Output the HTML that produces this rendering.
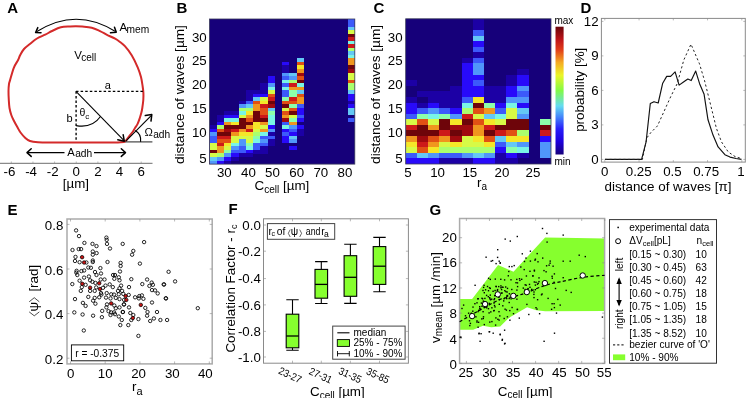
<!DOCTYPE html><html><head><meta charset="utf-8"><style>html,body{margin:0;padding:0;background:#fff;overflow:hidden}svg{display:block;will-change:transform}text{font-family:"Liberation Sans",sans-serif;fill:#000}</style></head><body>
<svg width="746" height="398" viewBox="0 0 746 398">
<text x="7.2" y="13.4" font-size="15" font-weight="bold">A</text>
<path d="M125.10,141.80 C123.92,141.90 121.35,142.27 118.00,142.40 C114.65,142.53 109.67,142.58 105.00,142.60 C100.33,142.62 95.83,142.52 90.00,142.50 C84.17,142.48 76.62,142.48 70.00,142.50 C63.38,142.52 55.63,142.63 50.30,142.60 C44.97,142.57 41.38,142.57 38.00,142.30 C34.62,142.03 32.15,141.77 30.00,141.00 C27.85,140.23 26.68,139.12 25.10,137.70 C23.52,136.28 21.75,134.18 20.50,132.50 C19.25,130.82 18.77,129.68 17.60,127.60 C16.43,125.52 14.55,122.10 13.50,120.00 C12.45,117.90 11.97,117.00 11.30,115.00 C10.63,113.00 9.92,110.50 9.50,108.00 C9.08,105.50 8.97,102.83 8.80,100.00 C8.63,97.17 8.47,93.67 8.50,91.00 C8.53,88.33 8.75,85.77 9.00,84.00 C9.25,82.23 9.20,83.10 10.00,80.40 C10.80,77.70 12.45,71.20 13.80,67.80 C15.15,64.40 17.05,62.08 18.10,60.00 C19.15,57.92 19.12,57.13 20.10,55.30 C21.08,53.47 22.32,50.93 24.00,49.00 C25.68,47.07 28.03,45.45 30.20,43.70 C32.37,41.95 34.50,40.00 37.00,38.50 C39.50,37.00 42.70,35.95 45.20,34.70 C47.70,33.45 49.40,32.23 52.00,31.00 C54.60,29.77 57.77,28.05 60.80,27.30 C63.83,26.55 67.67,26.67 70.20,26.50 C72.73,26.33 73.98,26.28 76.00,26.30 C78.02,26.32 79.68,26.37 82.30,26.60 C84.92,26.83 88.75,26.95 91.70,27.70 C94.65,28.45 97.45,29.92 100.00,31.10 C102.55,32.28 104.48,33.53 107.00,34.80 C109.52,36.07 112.93,37.50 115.10,38.70 C117.27,39.90 118.37,40.75 120.00,42.00 C121.63,43.25 122.95,44.00 124.90,46.20 C126.85,48.40 129.57,51.68 131.70,55.20 C133.83,58.72 136.15,63.67 137.70,67.30 C139.25,70.93 140.18,73.88 141.00,77.00 C141.82,80.12 142.20,83.33 142.60,86.00 C143.00,88.67 143.28,90.67 143.40,93.00 C143.52,95.33 143.48,97.50 143.30,100.00 C143.12,102.50 142.62,105.90 142.30,108.00 C141.98,110.10 141.82,110.93 141.40,112.60 C140.98,114.27 140.43,116.12 139.80,118.00 C139.17,119.88 138.40,122.23 137.60,123.90 C136.80,125.57 135.83,126.65 135.00,128.00 C134.17,129.35 133.60,130.58 132.60,132.00 C131.60,133.42 130.05,135.13 129.00,136.50 C127.95,137.87 126.95,139.32 126.30,140.20 C125.65,141.08 125.30,141.53 125.10,141.80" fill="none" stroke="#d42a2a" stroke-width="2" stroke-linejoin="round"/>
<g stroke="#000" fill="none" stroke-width="1.1">
<path d="M36.5,31.8 Q75.8,6.8 115.5,31.5"/>
<path d="M76,91.3 H144" stroke-dasharray="2.5,2.1" stroke-width="1.35"/>
<path d="M76.1,91.3 V142" stroke-dasharray="2.5,2.1" stroke-width="1.35"/>
<path d="M76,91.3 L123.6,140.2"/>
<path d="M76.1,125.6 Q92,128.5 100.5,116.5"/>
<path d="M125.1,141.9 H152.4" stroke="#333"/>
<path d="M125.8,141.2 L151.2,115.6"/>
<path d="M140.6,141.9 Q141.5,134 135.2,130.6"/>
<path d="M27.5,152.6 H64.5 M94,152.6 H124.8"/>
</g>
<g stroke="#000" fill="none" stroke-width="1.5" stroke-linecap="round" stroke-linejoin="round">
<path d="M37.8,27.6 L35.6,32.5 L41,32.8"/>
<path d="M110.5,32.8 L116.3,32.2 L114.5,27.2"/>
<path d="M117.8,139.8 L124.3,141.2 L123.2,134.8"/>
<path d="M145.3,115.6 L151.8,114.6 L151,121.1"/>
<path d="M31.2,148.8 L27,152.6 L31.2,156.4"/>
<path d="M121.3,148.8 L125.5,152.6 L121.3,156.4"/>
</g>
<path d="M0,163.4 H152.5" stroke="#8a8a8a" stroke-width="1.2"/>
<path d="M11.30,163 V161.5" stroke="#8a8a8a" stroke-width="0.6"/>
<text x="9.40" y="176.40" font-size="13.3" text-anchor="middle" >-6</text>
<path d="M32.95,163 V161.5" stroke="#8a8a8a" stroke-width="0.6"/>
<text x="31.05" y="176.40" font-size="13.3" text-anchor="middle" >-4</text>
<path d="M54.60,163 V161.5" stroke="#8a8a8a" stroke-width="0.6"/>
<text x="52.70" y="176.40" font-size="13.3" text-anchor="middle" >-2</text>
<path d="M76.25,163 V161.5" stroke="#8a8a8a" stroke-width="0.6"/>
<text x="76.25" y="176.40" font-size="13.3" text-anchor="middle" >0</text>
<path d="M97.90,163 V161.5" stroke="#8a8a8a" stroke-width="0.6"/>
<text x="97.90" y="176.40" font-size="13.3" text-anchor="middle" >2</text>
<path d="M119.55,163 V161.5" stroke="#8a8a8a" stroke-width="0.6"/>
<text x="119.55" y="176.40" font-size="13.3" text-anchor="middle" >4</text>
<path d="M141.20,163 V161.5" stroke="#8a8a8a" stroke-width="0.6"/>
<text x="141.20" y="176.40" font-size="13.3" text-anchor="middle" >6</text>
<text x="75.90" y="187.60" font-size="13.3" text-anchor="middle" >[µm]</text>
<text x="74.20" y="58.60" font-size="11.5" text-anchor="start" >V</text>
<text x="81.20" y="61.20" font-size="10" text-anchor="start" >cell</text>
<text x="119.40" y="30.50" font-size="11.5" text-anchor="start" >A</text>
<text x="126.60" y="33.00" font-size="10.2" text-anchor="start" >mem</text>
<text x="107.70" y="89.40" font-size="11" text-anchor="middle" >a</text>
<text x="66.60" y="122.00" font-size="11" text-anchor="start" >b</text>
<text x="79.60" y="116.20" font-size="10.5" text-anchor="start" >θ</text>
<text x="85.20" y="119.30" font-size="8" text-anchor="start" >c</text>
<text x="144.60" y="136.40" font-size="11.2" text-anchor="start" >Ω</text>
<text x="153.20" y="137.80" font-size="10.2" text-anchor="start" >adh</text>
<text x="67.20" y="155.50" font-size="11.2" text-anchor="start" >A</text>
<text x="75.20" y="157.20" font-size="10.2" text-anchor="start" >adh</text>
<text x="176.6" y="13.4" font-size="15" font-weight="bold">B</text>
<rect x="209.5" y="19.0" width="145.30" height="145.10" fill="#16007a"/>
<g shape-rendering="crispEdges">
<rect x="296.68" y="58.42" width="7.32" height="3.57" fill="#64c8f5"/>
<rect x="347.54" y="58.42" width="7.32" height="3.57" fill="#f0961e"/>
<rect x="282.15" y="61.94" width="7.32" height="3.57" fill="#280afa"/>
<rect x="296.68" y="61.94" width="7.32" height="3.57" fill="#e15014"/>
<rect x="347.54" y="61.94" width="7.32" height="3.57" fill="#f0961e"/>
<rect x="282.15" y="65.46" width="7.32" height="3.57" fill="#1c00a5"/>
<rect x="296.68" y="65.46" width="7.32" height="3.57" fill="#f5e628"/>
<rect x="347.54" y="65.46" width="7.32" height="3.57" fill="#6e050a"/>
<rect x="282.15" y="68.98" width="7.32" height="3.57" fill="#1c00a5"/>
<rect x="296.68" y="68.98" width="7.32" height="3.57" fill="#f0961e"/>
<rect x="347.54" y="68.98" width="7.32" height="3.57" fill="#a00a0f"/>
<rect x="282.15" y="72.50" width="7.32" height="3.57" fill="#5096fa"/>
<rect x="289.42" y="72.50" width="7.32" height="3.57" fill="#64c8f5"/>
<rect x="296.68" y="72.50" width="7.32" height="3.57" fill="#a00a0f"/>
<rect x="347.54" y="72.50" width="7.32" height="3.57" fill="#d7fa46"/>
<rect x="267.62" y="76.02" width="7.32" height="3.57" fill="#280afa"/>
<rect x="282.15" y="76.02" width="7.32" height="3.57" fill="#3c5afa"/>
<rect x="289.42" y="76.02" width="7.32" height="3.57" fill="#5096fa"/>
<rect x="296.68" y="76.02" width="7.32" height="3.57" fill="#e15014"/>
<rect x="347.54" y="76.02" width="7.32" height="3.57" fill="#d7fa46"/>
<rect x="267.62" y="79.54" width="7.32" height="3.57" fill="#280afa"/>
<rect x="282.15" y="79.54" width="7.32" height="3.57" fill="#78f5e6"/>
<rect x="289.42" y="79.54" width="7.32" height="3.57" fill="#aaff6e"/>
<rect x="296.68" y="79.54" width="7.32" height="3.57" fill="#6e050a"/>
<rect x="347.54" y="79.54" width="7.32" height="3.57" fill="#e15014"/>
<rect x="260.36" y="83.06" width="7.32" height="3.57" fill="#1c00a5"/>
<rect x="267.62" y="83.06" width="7.32" height="3.57" fill="#5096fa"/>
<rect x="282.15" y="83.06" width="7.32" height="3.57" fill="#3c5afa"/>
<rect x="289.42" y="83.06" width="7.32" height="3.57" fill="#cd1919"/>
<rect x="296.68" y="83.06" width="7.32" height="3.57" fill="#78f5e6"/>
<rect x="347.54" y="83.06" width="7.32" height="3.57" fill="#aaff6e"/>
<rect x="260.36" y="86.58" width="7.32" height="3.57" fill="#1c00a5"/>
<rect x="267.62" y="86.58" width="7.32" height="3.57" fill="#78f5e6"/>
<rect x="282.15" y="86.58" width="7.32" height="3.57" fill="#78f5e6"/>
<rect x="289.42" y="86.58" width="7.32" height="3.57" fill="#f0961e"/>
<rect x="296.68" y="86.58" width="7.32" height="3.57" fill="#f0961e"/>
<rect x="347.54" y="86.58" width="7.32" height="3.57" fill="#aaff6e"/>
<rect x="245.82" y="90.10" width="7.32" height="3.57" fill="#1c00a5"/>
<rect x="253.09" y="90.10" width="7.32" height="3.57" fill="#1c00a5"/>
<rect x="260.36" y="90.10" width="7.32" height="3.57" fill="#1c00a5"/>
<rect x="267.62" y="90.10" width="7.32" height="3.57" fill="#d7fa46"/>
<rect x="282.15" y="90.10" width="7.32" height="3.57" fill="#3c5afa"/>
<rect x="289.42" y="90.10" width="7.32" height="3.57" fill="#8cffaa"/>
<rect x="296.68" y="90.10" width="7.32" height="3.57" fill="#64c8f5"/>
<rect x="347.54" y="90.10" width="7.32" height="3.57" fill="#64c8f5"/>
<rect x="245.82" y="93.62" width="7.32" height="3.57" fill="#1c00a5"/>
<rect x="253.09" y="93.62" width="7.32" height="3.57" fill="#280afa"/>
<rect x="260.36" y="93.62" width="7.32" height="3.57" fill="#280afa"/>
<rect x="267.62" y="93.62" width="7.32" height="3.57" fill="#e15014"/>
<rect x="282.15" y="93.62" width="7.32" height="3.57" fill="#3c5afa"/>
<rect x="289.42" y="93.62" width="7.32" height="3.57" fill="#8cffaa"/>
<rect x="296.68" y="93.62" width="7.32" height="3.57" fill="#e15014"/>
<rect x="347.54" y="93.62" width="7.32" height="3.57" fill="#280afa"/>
<rect x="245.82" y="97.14" width="7.32" height="3.57" fill="#1c00a5"/>
<rect x="253.09" y="97.14" width="7.32" height="3.57" fill="#64c8f5"/>
<rect x="260.36" y="97.14" width="7.32" height="3.57" fill="#d7fa46"/>
<rect x="267.62" y="97.14" width="7.32" height="3.57" fill="#cd1919"/>
<rect x="282.15" y="97.14" width="7.32" height="3.57" fill="#8cffaa"/>
<rect x="289.42" y="97.14" width="7.32" height="3.57" fill="#cd1919"/>
<rect x="296.68" y="97.14" width="7.32" height="3.57" fill="#f0961e"/>
<rect x="347.54" y="97.14" width="7.32" height="3.57" fill="#280afa"/>
<rect x="238.56" y="100.66" width="7.32" height="3.57" fill="#1c00a5"/>
<rect x="245.82" y="100.66" width="7.32" height="3.57" fill="#3c5afa"/>
<rect x="253.09" y="100.66" width="7.32" height="3.57" fill="#e15014"/>
<rect x="260.36" y="100.66" width="7.32" height="3.57" fill="#f5e628"/>
<rect x="267.62" y="100.66" width="7.32" height="3.57" fill="#6e050a"/>
<rect x="282.15" y="100.66" width="7.32" height="3.57" fill="#e15014"/>
<rect x="289.42" y="100.66" width="7.32" height="3.57" fill="#e15014"/>
<rect x="296.68" y="100.66" width="7.32" height="3.57" fill="#f0961e"/>
<rect x="347.54" y="100.66" width="7.32" height="3.57" fill="#1c00a5"/>
<rect x="238.56" y="104.18" width="7.32" height="3.57" fill="#5096fa"/>
<rect x="245.82" y="104.18" width="7.32" height="3.57" fill="#64c8f5"/>
<rect x="253.09" y="104.18" width="7.32" height="3.57" fill="#f0961e"/>
<rect x="260.36" y="104.18" width="7.32" height="3.57" fill="#cd1919"/>
<rect x="267.62" y="104.18" width="7.32" height="3.57" fill="#a00a0f"/>
<rect x="282.15" y="104.18" width="7.32" height="3.57" fill="#6e050a"/>
<rect x="289.42" y="104.18" width="7.32" height="3.57" fill="#8cffaa"/>
<rect x="296.68" y="104.18" width="7.32" height="3.57" fill="#3c5afa"/>
<rect x="347.54" y="104.18" width="7.32" height="3.57" fill="#280afa"/>
<rect x="238.56" y="107.70" width="7.32" height="3.57" fill="#aaff6e"/>
<rect x="245.82" y="107.70" width="7.32" height="3.57" fill="#aaff6e"/>
<rect x="253.09" y="107.70" width="7.32" height="3.57" fill="#f0961e"/>
<rect x="260.36" y="107.70" width="7.32" height="3.57" fill="#e15014"/>
<rect x="267.62" y="107.70" width="7.32" height="3.57" fill="#64c8f5"/>
<rect x="282.15" y="107.70" width="7.32" height="3.57" fill="#d7fa46"/>
<rect x="289.42" y="107.70" width="7.32" height="3.57" fill="#e15014"/>
<rect x="296.68" y="107.70" width="7.32" height="3.57" fill="#280afa"/>
<rect x="347.54" y="107.70" width="7.32" height="3.57" fill="#64c8f5"/>
<rect x="224.03" y="111.22" width="7.32" height="3.57" fill="#1c00a5"/>
<rect x="231.30" y="111.22" width="7.32" height="3.57" fill="#1c00a5"/>
<rect x="238.56" y="111.22" width="7.32" height="3.57" fill="#78f5e6"/>
<rect x="245.82" y="111.22" width="7.32" height="3.57" fill="#f5e628"/>
<rect x="253.09" y="111.22" width="7.32" height="3.57" fill="#6e050a"/>
<rect x="260.36" y="111.22" width="7.32" height="3.57" fill="#e15014"/>
<rect x="267.62" y="111.22" width="7.32" height="3.57" fill="#8cffaa"/>
<rect x="282.15" y="111.22" width="7.32" height="3.57" fill="#e15014"/>
<rect x="289.42" y="111.22" width="7.32" height="3.57" fill="#6e050a"/>
<rect x="296.68" y="111.22" width="7.32" height="3.57" fill="#280afa"/>
<rect x="347.54" y="111.22" width="7.32" height="3.57" fill="#64c8f5"/>
<rect x="216.76" y="114.74" width="7.32" height="3.57" fill="#1c00a5"/>
<rect x="224.03" y="114.74" width="7.32" height="3.57" fill="#280afa"/>
<rect x="231.30" y="114.74" width="7.32" height="3.57" fill="#280afa"/>
<rect x="238.56" y="114.74" width="7.32" height="3.57" fill="#d7fa46"/>
<rect x="245.82" y="114.74" width="7.32" height="3.57" fill="#f0961e"/>
<rect x="253.09" y="114.74" width="7.32" height="3.57" fill="#6e050a"/>
<rect x="260.36" y="114.74" width="7.32" height="3.57" fill="#cd1919"/>
<rect x="267.62" y="114.74" width="7.32" height="3.57" fill="#78f5e6"/>
<rect x="282.15" y="114.74" width="7.32" height="3.57" fill="#f0961e"/>
<rect x="289.42" y="114.74" width="7.32" height="3.57" fill="#d7fa46"/>
<rect x="296.68" y="114.74" width="7.32" height="3.57" fill="#3c5afa"/>
<rect x="216.76" y="118.26" width="7.32" height="3.57" fill="#1c00a5"/>
<rect x="224.03" y="118.26" width="7.32" height="3.57" fill="#78f5e6"/>
<rect x="231.30" y="118.26" width="7.32" height="3.57" fill="#78f5e6"/>
<rect x="238.56" y="118.26" width="7.32" height="3.57" fill="#6e050a"/>
<rect x="245.82" y="118.26" width="7.32" height="3.57" fill="#e15014"/>
<rect x="253.09" y="118.26" width="7.32" height="3.57" fill="#6e050a"/>
<rect x="260.36" y="118.26" width="7.32" height="3.57" fill="#6e050a"/>
<rect x="267.62" y="118.26" width="7.32" height="3.57" fill="#78f5e6"/>
<rect x="282.15" y="118.26" width="7.32" height="3.57" fill="#a00a0f"/>
<rect x="289.42" y="118.26" width="7.32" height="3.57" fill="#8cffaa"/>
<rect x="296.68" y="118.26" width="7.32" height="3.57" fill="#280afa"/>
<rect x="347.54" y="118.26" width="7.32" height="3.57" fill="#3c5afa"/>
<rect x="216.76" y="121.78" width="7.32" height="3.57" fill="#280afa"/>
<rect x="224.03" y="121.78" width="7.32" height="3.57" fill="#f0961e"/>
<rect x="231.30" y="121.78" width="7.32" height="3.57" fill="#f5e628"/>
<rect x="238.56" y="121.78" width="7.32" height="3.57" fill="#6e050a"/>
<rect x="245.82" y="121.78" width="7.32" height="3.57" fill="#6e050a"/>
<rect x="253.09" y="121.78" width="7.32" height="3.57" fill="#f5e628"/>
<rect x="260.36" y="121.78" width="7.32" height="3.57" fill="#f0961e"/>
<rect x="267.62" y="121.78" width="7.32" height="3.57" fill="#78f5e6"/>
<rect x="282.15" y="121.78" width="7.32" height="3.57" fill="#3c5afa"/>
<rect x="289.42" y="121.78" width="7.32" height="3.57" fill="#f0961e"/>
<rect x="209.50" y="125.30" width="7.32" height="3.57" fill="#1c00a5"/>
<rect x="216.76" y="125.30" width="7.32" height="3.57" fill="#aaff6e"/>
<rect x="224.03" y="125.30" width="7.32" height="3.57" fill="#6e050a"/>
<rect x="231.30" y="125.30" width="7.32" height="3.57" fill="#6e050a"/>
<rect x="238.56" y="125.30" width="7.32" height="3.57" fill="#6e050a"/>
<rect x="245.82" y="125.30" width="7.32" height="3.57" fill="#f0961e"/>
<rect x="253.09" y="125.30" width="7.32" height="3.57" fill="#f5e628"/>
<rect x="260.36" y="125.30" width="7.32" height="3.57" fill="#d7fa46"/>
<rect x="267.62" y="125.30" width="7.32" height="3.57" fill="#280afa"/>
<rect x="282.15" y="125.30" width="7.32" height="3.57" fill="#78f5e6"/>
<rect x="289.42" y="125.30" width="7.32" height="3.57" fill="#5096fa"/>
<rect x="296.68" y="125.30" width="7.32" height="3.57" fill="#280afa"/>
<rect x="209.50" y="128.82" width="7.32" height="3.57" fill="#280afa"/>
<rect x="216.76" y="128.82" width="7.32" height="3.57" fill="#e15014"/>
<rect x="224.03" y="128.82" width="7.32" height="3.57" fill="#a00a0f"/>
<rect x="231.30" y="128.82" width="7.32" height="3.57" fill="#cd1919"/>
<rect x="238.56" y="128.82" width="7.32" height="3.57" fill="#f0961e"/>
<rect x="245.82" y="128.82" width="7.32" height="3.57" fill="#cd1919"/>
<rect x="253.09" y="128.82" width="7.32" height="3.57" fill="#d7fa46"/>
<rect x="260.36" y="128.82" width="7.32" height="3.57" fill="#f0961e"/>
<rect x="267.62" y="128.82" width="7.32" height="3.57" fill="#5096fa"/>
<rect x="282.15" y="128.82" width="7.32" height="3.57" fill="#280afa"/>
<rect x="289.42" y="128.82" width="7.32" height="3.57" fill="#3c5afa"/>
<rect x="296.68" y="128.82" width="7.32" height="3.57" fill="#1c00a5"/>
<rect x="209.50" y="132.34" width="7.32" height="3.57" fill="#5096fa"/>
<rect x="216.76" y="132.34" width="7.32" height="3.57" fill="#6e050a"/>
<rect x="224.03" y="132.34" width="7.32" height="3.57" fill="#6e050a"/>
<rect x="231.30" y="132.34" width="7.32" height="3.57" fill="#f0961e"/>
<rect x="238.56" y="132.34" width="7.32" height="3.57" fill="#f5e628"/>
<rect x="245.82" y="132.34" width="7.32" height="3.57" fill="#f5e628"/>
<rect x="253.09" y="132.34" width="7.32" height="3.57" fill="#aaff6e"/>
<rect x="260.36" y="132.34" width="7.32" height="3.57" fill="#78f5e6"/>
<rect x="267.62" y="132.34" width="7.32" height="3.57" fill="#1c00a5"/>
<rect x="282.15" y="132.34" width="7.32" height="3.57" fill="#3c5afa"/>
<rect x="289.42" y="132.34" width="7.32" height="3.57" fill="#280afa"/>
<rect x="296.68" y="132.34" width="7.32" height="3.57" fill="#1c00a5"/>
<rect x="209.50" y="135.86" width="7.32" height="3.57" fill="#3c5afa"/>
<rect x="216.76" y="135.86" width="7.32" height="3.57" fill="#cd1919"/>
<rect x="224.03" y="135.86" width="7.32" height="3.57" fill="#cd1919"/>
<rect x="231.30" y="135.86" width="7.32" height="3.57" fill="#d7fa46"/>
<rect x="238.56" y="135.86" width="7.32" height="3.57" fill="#d7fa46"/>
<rect x="245.82" y="135.86" width="7.32" height="3.57" fill="#d7fa46"/>
<rect x="253.09" y="135.86" width="7.32" height="3.57" fill="#8cffaa"/>
<rect x="260.36" y="135.86" width="7.32" height="3.57" fill="#3c5afa"/>
<rect x="267.62" y="135.86" width="7.32" height="3.57" fill="#3c5afa"/>
<rect x="282.15" y="135.86" width="7.32" height="3.57" fill="#280afa"/>
<rect x="289.42" y="135.86" width="7.32" height="3.57" fill="#64c8f5"/>
<rect x="209.50" y="139.38" width="7.32" height="3.57" fill="#3c5afa"/>
<rect x="216.76" y="139.38" width="7.32" height="3.57" fill="#e15014"/>
<rect x="224.03" y="139.38" width="7.32" height="3.57" fill="#e15014"/>
<rect x="231.30" y="139.38" width="7.32" height="3.57" fill="#d7fa46"/>
<rect x="238.56" y="139.38" width="7.32" height="3.57" fill="#5096fa"/>
<rect x="245.82" y="139.38" width="7.32" height="3.57" fill="#d7fa46"/>
<rect x="253.09" y="139.38" width="7.32" height="3.57" fill="#78f5e6"/>
<rect x="260.36" y="139.38" width="7.32" height="3.57" fill="#5096fa"/>
<rect x="267.62" y="139.38" width="7.32" height="3.57" fill="#1c00a5"/>
<rect x="282.15" y="139.38" width="7.32" height="3.57" fill="#280afa"/>
<rect x="289.42" y="139.38" width="7.32" height="3.57" fill="#5096fa"/>
<rect x="209.50" y="142.90" width="7.32" height="3.57" fill="#d7fa46"/>
<rect x="216.76" y="142.90" width="7.32" height="3.57" fill="#cd1919"/>
<rect x="224.03" y="142.90" width="7.32" height="3.57" fill="#f5e628"/>
<rect x="231.30" y="142.90" width="7.32" height="3.57" fill="#78f5e6"/>
<rect x="238.56" y="142.90" width="7.32" height="3.57" fill="#5096fa"/>
<rect x="245.82" y="142.90" width="7.32" height="3.57" fill="#8cffaa"/>
<rect x="253.09" y="142.90" width="7.32" height="3.57" fill="#3c5afa"/>
<rect x="260.36" y="142.90" width="7.32" height="3.57" fill="#3c5afa"/>
<rect x="267.62" y="142.90" width="7.32" height="3.57" fill="#1c00a5"/>
<rect x="209.50" y="146.42" width="7.32" height="3.57" fill="#d7fa46"/>
<rect x="216.76" y="146.42" width="7.32" height="3.57" fill="#f0961e"/>
<rect x="224.03" y="146.42" width="7.32" height="3.57" fill="#d7fa46"/>
<rect x="231.30" y="146.42" width="7.32" height="3.57" fill="#5096fa"/>
<rect x="238.56" y="146.42" width="7.32" height="3.57" fill="#3c5afa"/>
<rect x="245.82" y="146.42" width="7.32" height="3.57" fill="#78f5e6"/>
<rect x="253.09" y="146.42" width="7.32" height="3.57" fill="#3c5afa"/>
<rect x="260.36" y="146.42" width="7.32" height="3.57" fill="#1c00a5"/>
<rect x="289.42" y="146.42" width="7.32" height="3.57" fill="#280afa"/>
<rect x="209.50" y="149.94" width="7.32" height="3.57" fill="#6e050a"/>
<rect x="216.76" y="149.94" width="7.32" height="3.57" fill="#f0961e"/>
<rect x="224.03" y="149.94" width="7.32" height="3.57" fill="#8cffaa"/>
<rect x="231.30" y="149.94" width="7.32" height="3.57" fill="#3c5afa"/>
<rect x="238.56" y="149.94" width="7.32" height="3.57" fill="#3c5afa"/>
<rect x="245.82" y="149.94" width="7.32" height="3.57" fill="#280afa"/>
<rect x="253.09" y="149.94" width="7.32" height="3.57" fill="#1c00a5"/>
<rect x="260.36" y="149.94" width="7.32" height="3.57" fill="#1c00a5"/>
<rect x="209.50" y="153.46" width="7.32" height="3.57" fill="#d7fa46"/>
<rect x="216.76" y="153.46" width="7.32" height="3.57" fill="#aaff6e"/>
<rect x="224.03" y="153.46" width="7.32" height="3.57" fill="#5096fa"/>
<rect x="231.30" y="153.46" width="7.32" height="3.57" fill="#280afa"/>
<rect x="238.56" y="153.46" width="7.32" height="3.57" fill="#1c00a5"/>
<rect x="245.82" y="153.46" width="7.32" height="3.57" fill="#1c00a5"/>
<rect x="209.50" y="156.98" width="7.32" height="3.57" fill="#64c8f5"/>
<rect x="216.76" y="156.98" width="7.32" height="3.57" fill="#5096fa"/>
<rect x="224.03" y="156.98" width="7.32" height="3.57" fill="#280afa"/>
<rect x="231.30" y="156.98" width="7.32" height="3.57" fill="#1c00a5"/>
<rect x="209.50" y="160.50" width="7.32" height="3.57" fill="#5096fa"/>
<rect x="216.76" y="160.50" width="7.32" height="3.57" fill="#280afa"/>
<rect x="224.03" y="160.50" width="7.32" height="3.57" fill="#1c00a5"/>
<rect x="347.54" y="19.00" width="7.32" height="4.27" fill="#3c5afa"/>
<rect x="347.54" y="23.22" width="7.32" height="3.57" fill="#3c5afa"/>
<rect x="347.54" y="26.74" width="7.32" height="3.57" fill="#64c8f5"/>
<rect x="347.54" y="30.26" width="7.32" height="3.57" fill="#d7fa46"/>
<rect x="347.54" y="33.78" width="7.32" height="3.57" fill="#6e050a"/>
<rect x="347.54" y="37.30" width="7.32" height="3.57" fill="#cd1919"/>
<rect x="347.54" y="40.82" width="7.32" height="3.57" fill="#78f5e6"/>
<rect x="347.54" y="44.34" width="7.32" height="3.57" fill="#cd1919"/>
<rect x="347.54" y="47.86" width="7.32" height="3.57" fill="#aaff6e"/>
<rect x="347.54" y="51.38" width="7.32" height="3.57" fill="#64c8f5"/>
<rect x="347.54" y="54.90" width="7.32" height="3.57" fill="#78f5e6"/>
</g>
<rect x="209.5" y="19.0" width="145.30" height="145.10" fill="none" stroke="#3a3a5a" stroke-width="0.8"/>
<text x="206.70" y="41.66" font-size="13.3" text-anchor="end" >30</text>
<text x="206.70" y="65.36" font-size="13.3" text-anchor="end" >25</text>
<text x="206.70" y="88.96" font-size="13.3" text-anchor="end" >20</text>
<text x="206.70" y="113.46" font-size="13.3" text-anchor="end" >15</text>
<text x="206.70" y="137.16" font-size="13.3" text-anchor="end" >10</text>
<text x="206.70" y="163.26" font-size="13.3" text-anchor="end" >5</text>
<text x="224.30" y="176.80" font-size="13.3" text-anchor="middle" >30</text>
<text x="248.50" y="176.80" font-size="13.3" text-anchor="middle" >40</text>
<text x="272.50" y="176.80" font-size="13.3" text-anchor="middle" >50</text>
<text x="296.70" y="176.80" font-size="13.3" text-anchor="middle" >60</text>
<text x="320.80" y="176.80" font-size="13.3" text-anchor="middle" >70</text>
<text x="345.00" y="176.80" font-size="13.3" text-anchor="middle" >80</text>
<text transform="translate(184.00,94.60) rotate(-90)" font-size="13.65" text-anchor="middle">distance of waves [µm]</text>
<text x="254.6" y="190.2" font-size="13.4">C<tspan font-size="10" dy="2.6">cell</tspan><tspan dy="-2.6"> [µm]</tspan></text>
<text x="373.6" y="13.4" font-size="15" font-weight="bold">C</text>
<rect x="405.7" y="18.8" width="145.30" height="145.20" fill="#16007a"/>
<g shape-rendering="crispEdges">
<rect x="405.70" y="80.23" width="11.23" height="5.63" fill="#1c00a5"/>
<rect x="405.70" y="96.98" width="11.23" height="5.63" fill="#1c00a5"/>
<rect x="405.70" y="102.57" width="11.23" height="5.63" fill="#280afa"/>
<rect x="405.70" y="108.15" width="11.23" height="5.63" fill="#280afa"/>
<rect x="405.70" y="113.74" width="11.23" height="5.63" fill="#3c5afa"/>
<rect x="405.70" y="119.32" width="11.23" height="5.63" fill="#d7fa46"/>
<rect x="405.70" y="124.91" width="11.23" height="5.63" fill="#cd1919"/>
<rect x="405.70" y="130.49" width="11.23" height="5.63" fill="#6e050a"/>
<rect x="405.70" y="136.08" width="11.23" height="5.63" fill="#f0961e"/>
<rect x="405.70" y="141.66" width="11.23" height="5.63" fill="#f5e628"/>
<rect x="405.70" y="147.25" width="11.23" height="5.63" fill="#d7fa46"/>
<rect x="405.70" y="152.83" width="11.23" height="5.63" fill="#3c5afa"/>
<rect x="405.70" y="158.42" width="11.23" height="5.63" fill="#280afa"/>
<rect x="416.88" y="91.40" width="11.23" height="5.63" fill="#1c00a5"/>
<rect x="416.88" y="102.57" width="11.23" height="5.63" fill="#1c00a5"/>
<rect x="416.88" y="108.15" width="11.23" height="5.63" fill="#3c5afa"/>
<rect x="416.88" y="113.74" width="11.23" height="5.63" fill="#8cffaa"/>
<rect x="416.88" y="119.32" width="11.23" height="5.63" fill="#e15014"/>
<rect x="416.88" y="124.91" width="11.23" height="5.63" fill="#6e050a"/>
<rect x="416.88" y="130.49" width="11.23" height="5.63" fill="#6e050a"/>
<rect x="416.88" y="136.08" width="11.23" height="5.63" fill="#a00a0f"/>
<rect x="416.88" y="141.66" width="11.23" height="5.63" fill="#cd1919"/>
<rect x="416.88" y="147.25" width="11.23" height="5.63" fill="#e15014"/>
<rect x="416.88" y="152.83" width="11.23" height="5.63" fill="#64c8f5"/>
<rect x="416.88" y="158.42" width="11.23" height="5.63" fill="#280afa"/>
<rect x="428.05" y="91.40" width="11.23" height="5.63" fill="#1c00a5"/>
<rect x="428.05" y="96.98" width="11.23" height="5.63" fill="#1c00a5"/>
<rect x="428.05" y="102.57" width="11.23" height="5.63" fill="#280afa"/>
<rect x="428.05" y="108.15" width="11.23" height="5.63" fill="#5096fa"/>
<rect x="428.05" y="113.74" width="11.23" height="5.63" fill="#78f5e6"/>
<rect x="428.05" y="119.32" width="11.23" height="5.63" fill="#d7fa46"/>
<rect x="428.05" y="124.91" width="11.23" height="5.63" fill="#f0961e"/>
<rect x="428.05" y="130.49" width="11.23" height="5.63" fill="#6e050a"/>
<rect x="428.05" y="136.08" width="11.23" height="5.63" fill="#e15014"/>
<rect x="428.05" y="141.66" width="11.23" height="5.63" fill="#f0961e"/>
<rect x="428.05" y="147.25" width="11.23" height="5.63" fill="#f5e628"/>
<rect x="428.05" y="152.83" width="11.23" height="5.63" fill="#5096fa"/>
<rect x="428.05" y="158.42" width="11.23" height="5.63" fill="#280afa"/>
<rect x="439.23" y="91.40" width="11.23" height="5.63" fill="#1c00a5"/>
<rect x="439.23" y="96.98" width="11.23" height="5.63" fill="#1c00a5"/>
<rect x="439.23" y="102.57" width="11.23" height="5.63" fill="#1c00a5"/>
<rect x="439.23" y="108.15" width="11.23" height="5.63" fill="#3c5afa"/>
<rect x="439.23" y="113.74" width="11.23" height="5.63" fill="#8cffaa"/>
<rect x="439.23" y="119.32" width="11.23" height="5.63" fill="#6e050a"/>
<rect x="439.23" y="124.91" width="11.23" height="5.63" fill="#6e050a"/>
<rect x="439.23" y="130.49" width="11.23" height="5.63" fill="#cd1919"/>
<rect x="439.23" y="136.08" width="11.23" height="5.63" fill="#f0961e"/>
<rect x="439.23" y="141.66" width="11.23" height="5.63" fill="#d7fa46"/>
<rect x="439.23" y="147.25" width="11.23" height="5.63" fill="#aaff6e"/>
<rect x="439.23" y="152.83" width="11.23" height="5.63" fill="#3c5afa"/>
<rect x="439.23" y="158.42" width="11.23" height="5.63" fill="#1c00a5"/>
<rect x="450.41" y="85.82" width="11.23" height="5.63" fill="#1c00a5"/>
<rect x="450.41" y="91.40" width="11.23" height="5.63" fill="#1c00a5"/>
<rect x="450.41" y="96.98" width="11.23" height="5.63" fill="#1c00a5"/>
<rect x="450.41" y="102.57" width="11.23" height="5.63" fill="#1c00a5"/>
<rect x="450.41" y="108.15" width="11.23" height="5.63" fill="#280afa"/>
<rect x="450.41" y="113.74" width="11.23" height="5.63" fill="#5096fa"/>
<rect x="450.41" y="119.32" width="11.23" height="5.63" fill="#f5e628"/>
<rect x="450.41" y="124.91" width="11.23" height="5.63" fill="#a00a0f"/>
<rect x="450.41" y="130.49" width="11.23" height="5.63" fill="#6e050a"/>
<rect x="450.41" y="136.08" width="11.23" height="5.63" fill="#a00a0f"/>
<rect x="450.41" y="141.66" width="11.23" height="5.63" fill="#f5e628"/>
<rect x="450.41" y="147.25" width="11.23" height="5.63" fill="#aaff6e"/>
<rect x="450.41" y="152.83" width="11.23" height="5.63" fill="#3c5afa"/>
<rect x="450.41" y="158.42" width="11.23" height="5.63" fill="#1c00a5"/>
<rect x="461.58" y="57.89" width="11.23" height="5.63" fill="#1c00a5"/>
<rect x="461.58" y="63.48" width="11.23" height="5.63" fill="#280afa"/>
<rect x="461.58" y="69.06" width="11.23" height="5.63" fill="#280afa"/>
<rect x="461.58" y="74.65" width="11.23" height="5.63" fill="#280afa"/>
<rect x="461.58" y="80.23" width="11.23" height="5.63" fill="#280afa"/>
<rect x="461.58" y="85.82" width="11.23" height="5.63" fill="#280afa"/>
<rect x="461.58" y="91.40" width="11.23" height="5.63" fill="#280afa"/>
<rect x="461.58" y="96.98" width="11.23" height="5.63" fill="#3c5afa"/>
<rect x="461.58" y="102.57" width="11.23" height="5.63" fill="#78f5e6"/>
<rect x="461.58" y="108.15" width="11.23" height="5.63" fill="#aaff6e"/>
<rect x="461.58" y="113.74" width="11.23" height="5.63" fill="#cd1919"/>
<rect x="461.58" y="119.32" width="11.23" height="5.63" fill="#6e050a"/>
<rect x="461.58" y="124.91" width="11.23" height="5.63" fill="#a00a0f"/>
<rect x="461.58" y="130.49" width="11.23" height="5.63" fill="#a00a0f"/>
<rect x="461.58" y="136.08" width="11.23" height="5.63" fill="#d7fa46"/>
<rect x="461.58" y="141.66" width="11.23" height="5.63" fill="#d7fa46"/>
<rect x="461.58" y="147.25" width="11.23" height="5.63" fill="#aaff6e"/>
<rect x="461.58" y="152.83" width="11.23" height="5.63" fill="#5096fa"/>
<rect x="461.58" y="158.42" width="11.23" height="5.63" fill="#1c00a5"/>
<rect x="472.76" y="18.80" width="11.23" height="5.63" fill="#1c00a5"/>
<rect x="472.76" y="24.38" width="11.23" height="5.63" fill="#1c00a5"/>
<rect x="472.76" y="29.97" width="11.23" height="5.63" fill="#3c5afa"/>
<rect x="472.76" y="35.55" width="11.23" height="5.63" fill="#64c8f5"/>
<rect x="472.76" y="41.14" width="11.23" height="5.63" fill="#280afa"/>
<rect x="472.76" y="46.72" width="11.23" height="5.63" fill="#3c5afa"/>
<rect x="472.76" y="52.31" width="11.23" height="5.63" fill="#1c00a5"/>
<rect x="472.76" y="57.89" width="11.23" height="5.63" fill="#3c5afa"/>
<rect x="472.76" y="63.48" width="11.23" height="5.63" fill="#5096fa"/>
<rect x="472.76" y="69.06" width="11.23" height="5.63" fill="#5096fa"/>
<rect x="472.76" y="74.65" width="11.23" height="5.63" fill="#280afa"/>
<rect x="472.76" y="80.23" width="11.23" height="5.63" fill="#3c5afa"/>
<rect x="472.76" y="85.82" width="11.23" height="5.63" fill="#280afa"/>
<rect x="472.76" y="91.40" width="11.23" height="5.63" fill="#280afa"/>
<rect x="472.76" y="96.98" width="11.23" height="5.63" fill="#f5e628"/>
<rect x="472.76" y="102.57" width="11.23" height="5.63" fill="#6e050a"/>
<rect x="472.76" y="108.15" width="11.23" height="5.63" fill="#e15014"/>
<rect x="472.76" y="113.74" width="11.23" height="5.63" fill="#d7fa46"/>
<rect x="472.76" y="119.32" width="11.23" height="5.63" fill="#e15014"/>
<rect x="472.76" y="124.91" width="11.23" height="5.63" fill="#f0961e"/>
<rect x="472.76" y="130.49" width="11.23" height="5.63" fill="#f0961e"/>
<rect x="472.76" y="136.08" width="11.23" height="5.63" fill="#f5e628"/>
<rect x="472.76" y="141.66" width="11.23" height="5.63" fill="#d7fa46"/>
<rect x="472.76" y="147.25" width="11.23" height="5.63" fill="#aaff6e"/>
<rect x="472.76" y="152.83" width="11.23" height="5.63" fill="#64c8f5"/>
<rect x="472.76" y="158.42" width="11.23" height="5.63" fill="#280afa"/>
<rect x="483.94" y="85.82" width="11.23" height="5.63" fill="#1c00a5"/>
<rect x="483.94" y="91.40" width="11.23" height="5.63" fill="#1c00a5"/>
<rect x="483.94" y="96.98" width="11.23" height="5.63" fill="#1c00a5"/>
<rect x="483.94" y="102.57" width="11.23" height="5.63" fill="#8cffaa"/>
<rect x="483.94" y="108.15" width="11.23" height="5.63" fill="#f0961e"/>
<rect x="483.94" y="113.74" width="11.23" height="5.63" fill="#64c8f5"/>
<rect x="483.94" y="119.32" width="11.23" height="5.63" fill="#f5e628"/>
<rect x="483.94" y="124.91" width="11.23" height="5.63" fill="#cd1919"/>
<rect x="483.94" y="130.49" width="11.23" height="5.63" fill="#6e050a"/>
<rect x="483.94" y="136.08" width="11.23" height="5.63" fill="#e15014"/>
<rect x="483.94" y="141.66" width="11.23" height="5.63" fill="#f5e628"/>
<rect x="483.94" y="147.25" width="11.23" height="5.63" fill="#aaff6e"/>
<rect x="483.94" y="152.83" width="11.23" height="5.63" fill="#5096fa"/>
<rect x="483.94" y="158.42" width="11.23" height="5.63" fill="#280afa"/>
<rect x="495.12" y="85.82" width="11.23" height="5.63" fill="#1c00a5"/>
<rect x="495.12" y="91.40" width="11.23" height="5.63" fill="#1c00a5"/>
<rect x="495.12" y="96.98" width="11.23" height="5.63" fill="#1c00a5"/>
<rect x="495.12" y="102.57" width="11.23" height="5.63" fill="#280afa"/>
<rect x="495.12" y="108.15" width="11.23" height="5.63" fill="#3c5afa"/>
<rect x="495.12" y="113.74" width="11.23" height="5.63" fill="#78f5e6"/>
<rect x="495.12" y="119.32" width="11.23" height="5.63" fill="#d7fa46"/>
<rect x="495.12" y="124.91" width="11.23" height="5.63" fill="#6e050a"/>
<rect x="495.12" y="130.49" width="11.23" height="5.63" fill="#cd1919"/>
<rect x="495.12" y="136.08" width="11.23" height="5.63" fill="#64c8f5"/>
<rect x="495.12" y="141.66" width="11.23" height="5.63" fill="#3c5afa"/>
<rect x="495.12" y="147.25" width="11.23" height="5.63" fill="#280afa"/>
<rect x="495.12" y="152.83" width="11.23" height="5.63" fill="#1c00a5"/>
<rect x="495.12" y="158.42" width="11.23" height="5.63" fill="#1c00a5"/>
<rect x="506.29" y="74.65" width="11.23" height="5.63" fill="#1c00a5"/>
<rect x="506.29" y="80.23" width="11.23" height="5.63" fill="#1c00a5"/>
<rect x="506.29" y="85.82" width="11.23" height="5.63" fill="#280afa"/>
<rect x="506.29" y="91.40" width="11.23" height="5.63" fill="#280afa"/>
<rect x="506.29" y="96.98" width="11.23" height="5.63" fill="#5096fa"/>
<rect x="506.29" y="102.57" width="11.23" height="5.63" fill="#78f5e6"/>
<rect x="506.29" y="108.15" width="11.23" height="5.63" fill="#d7fa46"/>
<rect x="506.29" y="113.74" width="11.23" height="5.63" fill="#d7fa46"/>
<rect x="506.29" y="119.32" width="11.23" height="5.63" fill="#6e050a"/>
<rect x="506.29" y="124.91" width="11.23" height="5.63" fill="#6e050a"/>
<rect x="506.29" y="130.49" width="11.23" height="5.63" fill="#e15014"/>
<rect x="506.29" y="136.08" width="11.23" height="5.63" fill="#f5e628"/>
<rect x="506.29" y="141.66" width="11.23" height="5.63" fill="#64c8f5"/>
<rect x="506.29" y="147.25" width="11.23" height="5.63" fill="#8cffaa"/>
<rect x="506.29" y="152.83" width="11.23" height="5.63" fill="#280afa"/>
<rect x="506.29" y="158.42" width="11.23" height="5.63" fill="#1c00a5"/>
<rect x="517.47" y="69.06" width="11.23" height="5.63" fill="#1c00a5"/>
<rect x="517.47" y="74.65" width="11.23" height="5.63" fill="#280afa"/>
<rect x="517.47" y="80.23" width="11.23" height="5.63" fill="#280afa"/>
<rect x="517.47" y="85.82" width="11.23" height="5.63" fill="#5096fa"/>
<rect x="517.47" y="91.40" width="11.23" height="5.63" fill="#3c5afa"/>
<rect x="517.47" y="96.98" width="11.23" height="5.63" fill="#5096fa"/>
<rect x="517.47" y="102.57" width="11.23" height="5.63" fill="#280afa"/>
<rect x="517.47" y="108.15" width="11.23" height="5.63" fill="#64c8f5"/>
<rect x="517.47" y="113.74" width="11.23" height="5.63" fill="#5096fa"/>
<rect x="517.47" y="119.32" width="11.23" height="5.63" fill="#6e050a"/>
<rect x="517.47" y="124.91" width="11.23" height="5.63" fill="#6e050a"/>
<rect x="517.47" y="130.49" width="11.23" height="5.63" fill="#aaff6e"/>
<rect x="517.47" y="136.08" width="11.23" height="5.63" fill="#f5e628"/>
<rect x="517.47" y="141.66" width="11.23" height="5.63" fill="#5096fa"/>
<rect x="517.47" y="147.25" width="11.23" height="5.63" fill="#78f5e6"/>
<rect x="517.47" y="152.83" width="11.23" height="5.63" fill="#1c00a5"/>
<rect x="539.82" y="119.32" width="11.23" height="5.63" fill="#8cffaa"/>
<rect x="539.82" y="124.91" width="11.23" height="5.63" fill="#6e050a"/>
<rect x="539.82" y="130.49" width="11.23" height="5.63" fill="#cd1919"/>
<rect x="539.82" y="136.08" width="11.23" height="5.63" fill="#280afa"/>
<rect x="539.82" y="141.66" width="11.23" height="5.63" fill="#5096fa"/>
<rect x="539.82" y="147.25" width="11.23" height="5.63" fill="#5096fa"/>
<rect x="539.82" y="152.83" width="11.23" height="5.63" fill="#5096fa"/>
</g>
<rect x="405.7" y="18.8" width="145.30" height="145.20" fill="none" stroke="#3a3a5a" stroke-width="0.8"/>
<text x="402.60" y="41.50" font-size="13.3" text-anchor="end" >30</text>
<text x="402.60" y="64.80" font-size="13.3" text-anchor="end" >25</text>
<text x="402.60" y="88.50" font-size="13.3" text-anchor="end" >20</text>
<text x="402.60" y="112.90" font-size="13.3" text-anchor="end" >15</text>
<text x="402.60" y="136.70" font-size="13.3" text-anchor="end" >10</text>
<text x="402.60" y="162.80" font-size="13.3" text-anchor="end" >5</text>
<text x="407.90" y="176.80" font-size="13.3" text-anchor="middle" >5</text>
<text x="437.60" y="176.80" font-size="13.3" text-anchor="middle" >10</text>
<text x="469.80" y="176.80" font-size="13.3" text-anchor="middle" >15</text>
<text x="501.90" y="176.80" font-size="13.3" text-anchor="middle" >20</text>
<text x="533.00" y="176.80" font-size="13.3" text-anchor="middle" >25</text>
<text transform="translate(380.20,94.40) rotate(-90)" font-size="13.65" text-anchor="middle">distance of waves [µm]</text>
<text x="477.0" y="186.9" font-size="13.4">r<tspan font-size="10" dy="3.3">a</tspan></text>
<defs><linearGradient id="jet" x1="0" y1="1" x2="0" y2="0">
<stop offset="0" stop-color="#16007a"/>
<stop offset="0.1" stop-color="#1e00dc"/>
<stop offset="0.2" stop-color="#281efa"/>
<stop offset="0.3" stop-color="#468cfa"/>
<stop offset="0.38" stop-color="#64dcf0"/>
<stop offset="0.5" stop-color="#82fa46"/>
<stop offset="0.62" stop-color="#ebf528"/>
<stop offset="0.72" stop-color="#f5aa23"/>
<stop offset="0.82" stop-color="#e13c19"/>
<stop offset="0.9" stop-color="#be1419"/>
<stop offset="1" stop-color="#69050a"/>
</linearGradient></defs>
<rect x="555.5" y="26.7" width="8.1" height="127.8" fill="url(#jet)"/>
<text x="554.40" y="23.60" font-size="10" text-anchor="start" >max</text>
<text x="554.40" y="164.60" font-size="10" text-anchor="start" >min</text>
<text x="580.6" y="13.4" font-size="15" font-weight="bold">D</text>
<rect x="601.4" y="18.4" width="143.90" height="143.70" fill="none" stroke="#8a8a8a" stroke-width="1"/>
<path d="M601.4,159.40 h2 M745.3,159.40 h-2" stroke="#8a8a8a" stroke-width="0.6"/>
<text x="598.60" y="163.56" font-size="13.3" text-anchor="end" >0</text>
<path d="M601.4,124.90 h2 M745.3,124.90 h-2" stroke="#8a8a8a" stroke-width="0.6"/>
<text x="598.60" y="129.06" font-size="13.3" text-anchor="end" >3</text>
<path d="M601.4,90.40 h2 M745.3,90.40 h-2" stroke="#8a8a8a" stroke-width="0.6"/>
<text x="598.60" y="94.56" font-size="13.3" text-anchor="end" >6</text>
<path d="M601.4,55.90 h2 M745.3,55.90 h-2" stroke="#8a8a8a" stroke-width="0.6"/>
<text x="598.60" y="60.06" font-size="13.3" text-anchor="end" >9</text>
<path d="M601.4,21.40 h2 M745.3,21.40 h-2" stroke="#8a8a8a" stroke-width="0.6"/>
<text x="598.60" y="25.56" font-size="13.3" text-anchor="end" >12</text>
<path d="M604.80,162.1 v-2 M604.80,18.4 v2" stroke="#8a8a8a" stroke-width="0.6"/>
<text x="604.80" y="175.60" font-size="13.3" text-anchor="middle" >0</text>
<path d="M639.05,162.1 v-2 M639.05,18.4 v2" stroke="#8a8a8a" stroke-width="0.6"/>
<text x="638.70" y="175.60" font-size="13.3" text-anchor="middle" >0.25</text>
<path d="M673.30,162.1 v-2 M673.30,18.4 v2" stroke="#8a8a8a" stroke-width="0.6"/>
<text x="672.40" y="175.60" font-size="13.3" text-anchor="middle" >0.5</text>
<path d="M707.55,162.1 v-2 M707.55,18.4 v2" stroke="#8a8a8a" stroke-width="0.6"/>
<text x="706.10" y="175.60" font-size="13.3" text-anchor="middle" >0.75</text>
<path d="M741.80,162.1 v-2 M741.80,18.4 v2" stroke="#8a8a8a" stroke-width="0.6"/>
<text x="741.00" y="175.60" font-size="13.3" text-anchor="middle" >1</text>
<polyline points="604.9,159.4 641.6,159.4 646.1,141.8 650.3,103.5 654,101.7 658.2,103 662.7,83.2 666.7,76.4 670.6,76.4 675.1,71.9 679.1,85.1 683.5,82 687.8,79 691.2,80.6 695.7,71.1 699.6,83.7 704.1,94.3 708,119.8 713,135.1 718.1,146.9 724.9,154.7 730,157.1 736,158.5 741.5,159.4" fill="none" stroke="#111" stroke-width="1.15" stroke-linejoin="round"/>
<polyline points="604.9,159.4 642.4,159.4 646.9,137.8 650.8,132.6 657.4,126 664,111.5 670.6,96.9 677.2,83.7 683.8,60 691,44.2 699.5,63.9 704.6,80.8 711.4,108 716.4,128.3 721.5,141.9 728.3,152 735,156.5 741.5,158.6" fill="none" stroke="#222" stroke-width="1" stroke-dasharray="2.2,2.4"/>
<text transform="translate(584.10,89.80) rotate(-90)" font-size="13.4" text-anchor="middle">probability [%]</text>
<text x="604.60" y="190.60" font-size="13.4" text-anchor="start" >distance of waves [π]</text>
<text x="7.4" y="215.2" font-size="15" font-weight="bold">E</text>
<rect x="67.0" y="219.0" width="145.20" height="144.90" fill="none" stroke="#ababab" stroke-width="1.5"/>
<path d="M67.0,224.40 h2.5 M212.2,224.40 h-2.5" stroke="#8a8a8a" stroke-width="0.6"/>
<text x="63.30" y="230.26" font-size="13.3" text-anchor="end" >0.8</text>
<path d="M67.0,269.00 h2.5 M212.2,269.00 h-2.5" stroke="#8a8a8a" stroke-width="0.6"/>
<text x="63.30" y="274.86" font-size="13.3" text-anchor="end" >0.6</text>
<path d="M67.0,313.60 h2.5 M212.2,313.60 h-2.5" stroke="#8a8a8a" stroke-width="0.6"/>
<text x="63.30" y="319.46" font-size="13.3" text-anchor="end" >0.4</text>
<path d="M67.0,358.20 h2.5 M212.2,358.20 h-2.5" stroke="#8a8a8a" stroke-width="0.6"/>
<text x="63.30" y="364.06" font-size="13.3" text-anchor="end" >0.2</text>
<path d="M70.50,363.9 v-2.5 M70.50,219.0 v2.5" stroke="#8a8a8a" stroke-width="0.6"/>
<path d="M105.20,363.9 v-2.5 M105.20,219.0 v2.5" stroke="#8a8a8a" stroke-width="0.6"/>
<path d="M139.90,363.9 v-2.5 M139.90,219.0 v2.5" stroke="#8a8a8a" stroke-width="0.6"/>
<path d="M174.60,363.9 v-2.5 M174.60,219.0 v2.5" stroke="#8a8a8a" stroke-width="0.6"/>
<path d="M209.30,363.9 v-2.5 M209.30,219.0 v2.5" stroke="#8a8a8a" stroke-width="0.6"/>
<text x="70.70" y="377.80" font-size="13.3" text-anchor="middle" >0</text>
<text x="105.20" y="377.80" font-size="13.3" text-anchor="middle" >10</text>
<text x="138.60" y="377.80" font-size="13.3" text-anchor="middle" >20</text>
<text x="172.30" y="377.80" font-size="13.3" text-anchor="middle" >30</text>
<text x="205.30" y="377.80" font-size="13.3" text-anchor="middle" >40</text>
<g fill="none" stroke="#000" stroke-width="0.85">
<circle cx="76.1" cy="230.4" r="1.7"/>
<circle cx="79" cy="236.1" r="1.7"/>
<circle cx="84.4" cy="242.9" r="1.7"/>
<circle cx="92.5" cy="243.9" r="1.7"/>
<circle cx="96.5" cy="246.1" r="1.7"/>
<circle cx="106.4" cy="237.6" r="1.7"/>
<circle cx="106.7" cy="239.9" r="1.7"/>
<circle cx="107" cy="243.9" r="1.7"/>
<circle cx="110" cy="248.5" r="1.7"/>
<circle cx="122.7" cy="243.9" r="1.7"/>
<circle cx="72.5" cy="250" r="1.7"/>
<circle cx="78.7" cy="249.1" r="1.7"/>
<circle cx="81.1" cy="249.1" r="1.7"/>
<circle cx="92.8" cy="251.5" r="1.7"/>
<circle cx="92.8" cy="254.7" r="1.7"/>
<circle cx="96.6" cy="253.1" r="1.7"/>
<circle cx="75.5" cy="256.9" r="1.7"/>
<circle cx="75" cy="261" r="1.7"/>
<circle cx="79.6" cy="262.2" r="1.7"/>
<circle cx="86.4" cy="262.5" r="1.7"/>
<circle cx="92.8" cy="260.5" r="1.7"/>
<circle cx="92.8" cy="262" r="1.7"/>
<circle cx="107.5" cy="262" r="1.7"/>
<circle cx="120.6" cy="262.9" r="1.7"/>
<circle cx="120.6" cy="266" r="1.7"/>
<circle cx="88.3" cy="267.5" r="1.7"/>
<circle cx="90.9" cy="267.8" r="1.7"/>
<circle cx="100.4" cy="268.1" r="1.7"/>
<circle cx="76.6" cy="270.8" r="1.7"/>
<circle cx="76.3" cy="272.6" r="1.7"/>
<circle cx="77.3" cy="275" r="1.7"/>
<circle cx="81.4" cy="271.1" r="1.7"/>
<circle cx="84.1" cy="270.5" r="1.7"/>
<circle cx="95" cy="272" r="1.7"/>
<circle cx="101" cy="273.5" r="1.7"/>
<circle cx="96.5" cy="275" r="1.7"/>
<circle cx="120" cy="271.5" r="1.7"/>
<circle cx="113.1" cy="275" r="1.7"/>
<circle cx="115" cy="275" r="1.7"/>
<circle cx="84.1" cy="277.6" r="1.7"/>
<circle cx="88.9" cy="276.5" r="1.7"/>
<circle cx="144.1" cy="242.1" r="1.7"/>
<circle cx="133.3" cy="250.9" r="1.7"/>
<circle cx="132.1" cy="254.7" r="1.7"/>
<circle cx="139.9" cy="263.6" r="1.7"/>
<circle cx="168.6" cy="271.8" r="1.7"/>
<circle cx="72.3" cy="284.1" r="1.7"/>
<circle cx="79.6" cy="280.7" r="1.7"/>
<circle cx="85.6" cy="284.8" r="1.7"/>
<circle cx="90.1" cy="280.3" r="1.7"/>
<circle cx="92.4" cy="281.8" r="1.7"/>
<circle cx="95.4" cy="282.9" r="1.7"/>
<circle cx="100.7" cy="279.5" r="1.7"/>
<circle cx="104.5" cy="279.5" r="1.7"/>
<circle cx="114.3" cy="278.8" r="1.7"/>
<circle cx="118.8" cy="277.3" r="1.7"/>
<circle cx="119.5" cy="280.3" r="1.7"/>
<circle cx="81.8" cy="287.1" r="1.7"/>
<circle cx="80.8" cy="290.9" r="1.7"/>
<circle cx="90.1" cy="290.9" r="1.7"/>
<circle cx="94.7" cy="290.9" r="1.7"/>
<circle cx="96.2" cy="287.4" r="1.7"/>
<circle cx="103" cy="287.8" r="1.7"/>
<circle cx="105.5" cy="285.6" r="1.7"/>
<circle cx="109.7" cy="284.4" r="1.7"/>
<circle cx="112.8" cy="287.1" r="1.7"/>
<circle cx="121.1" cy="285.6" r="1.7"/>
<circle cx="119.5" cy="288.3" r="1.7"/>
<circle cx="118" cy="290.9" r="1.7"/>
<circle cx="122.1" cy="290.9" r="1.7"/>
<circle cx="101" cy="293.1" r="1.7"/>
<circle cx="101.4" cy="294.6" r="1.7"/>
<circle cx="106.7" cy="293.1" r="1.7"/>
<circle cx="111.2" cy="294.3" r="1.7"/>
<circle cx="114" cy="294.6" r="1.7"/>
<circle cx="118.8" cy="294.3" r="1.7"/>
<circle cx="123.3" cy="293.9" r="1.7"/>
<circle cx="88.3" cy="296.9" r="1.7"/>
<circle cx="75" cy="299.1" r="1.7"/>
<circle cx="94.7" cy="297.9" r="1.7"/>
<circle cx="99.2" cy="297.3" r="1.7"/>
<circle cx="106" cy="297.6" r="1.7"/>
<circle cx="110.5" cy="298.4" r="1.7"/>
<circle cx="115.8" cy="297.9" r="1.7"/>
<circle cx="119.5" cy="299.1" r="1.7"/>
<circle cx="124.1" cy="299.9" r="1.7"/>
<circle cx="93.1" cy="300.7" r="1.7"/>
<circle cx="95.4" cy="303.7" r="1.7"/>
<circle cx="82.9" cy="302.9" r="1.7"/>
<circle cx="85.6" cy="305.9" r="1.7"/>
<circle cx="107" cy="304.4" r="1.7"/>
<circle cx="114.3" cy="305.5" r="1.7"/>
<circle cx="106.4" cy="307.4" r="1.7"/>
<circle cx="115.8" cy="308.2" r="1.7"/>
<circle cx="119.5" cy="307.4" r="1.7"/>
<circle cx="124.1" cy="304.4" r="1.7"/>
<circle cx="74.3" cy="312.4" r="1.7"/>
<circle cx="82.6" cy="314.5" r="1.7"/>
<circle cx="93.1" cy="315.7" r="1.7"/>
<circle cx="102.2" cy="310.9" r="1.7"/>
<circle cx="108.5" cy="311.2" r="1.7"/>
<circle cx="111.2" cy="312.4" r="1.7"/>
<circle cx="114" cy="312.4" r="1.7"/>
<circle cx="110.5" cy="315" r="1.7"/>
<circle cx="115" cy="314.2" r="1.7"/>
<circle cx="123" cy="312" r="1.7"/>
<circle cx="101.9" cy="317.2" r="1.7"/>
<circle cx="118.8" cy="316.5" r="1.7"/>
<circle cx="121.8" cy="320" r="1.7"/>
<circle cx="120.3" cy="325.1" r="1.7"/>
<circle cx="83.8" cy="330.5" r="1.7"/>
<circle cx="131.3" cy="279.2" r="1.7"/>
<circle cx="147.1" cy="279.5" r="1.7"/>
<circle cx="142.3" cy="284.1" r="1.7"/>
<circle cx="151.7" cy="282.6" r="1.7"/>
<circle cx="149.4" cy="285.9" r="1.7"/>
<circle cx="152.9" cy="284.8" r="1.7"/>
<circle cx="163.7" cy="284.4" r="1.7"/>
<circle cx="175.1" cy="281.4" r="1.7"/>
<circle cx="129" cy="287.1" r="1.7"/>
<circle cx="152" cy="290.1" r="1.7"/>
<circle cx="155" cy="290.4" r="1.7"/>
<circle cx="157.7" cy="293.4" r="1.7"/>
<circle cx="128.7" cy="294.9" r="1.7"/>
<circle cx="135.1" cy="297.3" r="1.7"/>
<circle cx="139.3" cy="296.1" r="1.7"/>
<circle cx="141.9" cy="295.4" r="1.7"/>
<circle cx="138.9" cy="298.4" r="1.7"/>
<circle cx="143.4" cy="298.8" r="1.7"/>
<circle cx="166" cy="298.4" r="1.7"/>
<circle cx="123.8" cy="304.4" r="1.7"/>
<circle cx="152" cy="302.5" r="1.7"/>
<circle cx="129" cy="307.4" r="1.7"/>
<circle cx="145.3" cy="307.9" r="1.7"/>
<circle cx="122.7" cy="312" r="1.7"/>
<circle cx="130.3" cy="313" r="1.7"/>
<circle cx="147.5" cy="312" r="1.7"/>
<circle cx="157" cy="312" r="1.7"/>
<circle cx="133.3" cy="315" r="1.7"/>
<circle cx="131.3" cy="320" r="1.7"/>
<circle cx="138.4" cy="319.1" r="1.7"/>
<circle cx="147.1" cy="315.7" r="1.7"/>
<circle cx="153.9" cy="318.5" r="1.7"/>
<circle cx="150.2" cy="321" r="1.7"/>
<circle cx="160.4" cy="320" r="1.7"/>
<circle cx="167.1" cy="320" r="1.7"/>
<circle cx="128.3" cy="325.1" r="1.7"/>
<circle cx="197.8" cy="308.2" r="1.7"/>
<circle cx="138.4" cy="335.9" r="1.7"/>
<circle cx="164.1" cy="284.5" r="1.7"/>
<circle cx="165.8" cy="298.3" r="1.7"/>
</g><g fill="#c81414" stroke="#000" stroke-width="0.75">
<circle cx="82.1" cy="257.2" r="1.75"/>
<circle cx="84.1" cy="262.5" r="1.75"/>
<circle cx="82.3" cy="283.8" r="1.75"/>
<circle cx="99.2" cy="283.3" r="1.75"/>
<circle cx="90.1" cy="287.7" r="1.75"/>
<circle cx="99.9" cy="289" r="1.75"/>
<circle cx="125.6" cy="296.1" r="1.75"/>
<circle cx="111.2" cy="303.4" r="1.75"/>
<circle cx="126.3" cy="299.9" r="1.75"/>
<circle cx="140.8" cy="304.9" r="1.75"/>
<circle cx="132.8" cy="318" r="1.75"/>
</g>
<rect x="71.4" y="344.9" width="52.3" height="15.9" fill="#fff" stroke="#000" stroke-width="0.9"/>
<text x="75.20" y="357.00" font-size="10.2" text-anchor="start" >r = -0.375</text>
<g transform="translate(38,316) rotate(-90)">
<path d="M4.1,-8.8 L0.2,-3.75 L4.1,1.3 M14.2,-8.8 L18.3,-3.75 L14.2,1.3" fill="none" stroke="#000" stroke-width="0.7"/>
<text x="4.4" y="0" font-size="13.4">ψ</text>
<text x="24.4" y="0" font-size="13.4">[rad]</text>
</g>
<text x="132.0" y="391.4" font-size="13.4">r<tspan font-size="11" dy="3.6">a</tspan></text>
<text x="228.4" y="214.4" font-size="15" font-weight="bold">F</text>
<rect x="263.5" y="218.8" width="144.90" height="144.40" fill="none" stroke="#8a8a8a" stroke-width="1"/>
<path d="M263.5,225.00 h2.5 M408.4,225.00 h-2.5" stroke="#8a8a8a" stroke-width="0.6"/>
<text x="260.80" y="229.66" font-size="13.3" text-anchor="end" >0.0</text>
<path d="M263.5,251.20 h2.5 M408.4,251.20 h-2.5" stroke="#8a8a8a" stroke-width="0.6"/>
<text x="260.80" y="255.86" font-size="13.3" text-anchor="end" >-0.2</text>
<path d="M263.5,278.60 h2.5 M408.4,278.60 h-2.5" stroke="#8a8a8a" stroke-width="0.6"/>
<text x="260.80" y="283.26" font-size="13.3" text-anchor="end" >-0.4</text>
<path d="M263.5,304.90 h2.5 M408.4,304.90 h-2.5" stroke="#8a8a8a" stroke-width="0.6"/>
<text x="260.80" y="309.56" font-size="13.3" text-anchor="end" >-0.6</text>
<path d="M263.5,331.40 h2.5 M408.4,331.40 h-2.5" stroke="#8a8a8a" stroke-width="0.6"/>
<text x="260.80" y="336.06" font-size="13.3" text-anchor="end" >-0.8</text>
<path d="M263.5,357.00 h2.5 M408.4,357.00 h-2.5" stroke="#8a8a8a" stroke-width="0.6"/>
<text x="260.80" y="361.66" font-size="13.3" text-anchor="end" >-1.0</text>
<path d="M292.5,363.2 v-2.5 M292.5,218.8 v2.5" stroke="#8a8a8a" stroke-width="0.6"/>
<path d="M321.3,363.2 v-2.5 M321.3,218.8 v2.5" stroke="#8a8a8a" stroke-width="0.6"/>
<path d="M350.4,363.2 v-2.5 M350.4,218.8 v2.5" stroke="#8a8a8a" stroke-width="0.6"/>
<path d="M379.5,363.2 v-2.5 M379.5,218.8 v2.5" stroke="#8a8a8a" stroke-width="0.6"/>
<g stroke="#000" stroke-width="1.1" fill="none">
<path d="M292.5,299.8 V314.2 M292.5,347.8 V350.3 M286.3,299.8 h12.4 M286.3,350.3 h12.4"/>
<rect x="286.2" y="314.2" width="12.6" height="33.60" fill="#86ff2e"/>
<path d="M286.2,336.0 h12.6" stroke-width="1.3"/>
</g>
<g stroke="#000" stroke-width="1.1" fill="none">
<path d="M321.3,261.6 V269.4 M321.3,298.2 V303.5 M315.1,261.6 h12.4 M315.1,303.5 h12.4"/>
<rect x="315.0" y="269.4" width="12.6" height="28.80" fill="#86ff2e"/>
<path d="M315.0,284.4 h12.6" stroke-width="1.3"/>
</g>
<g stroke="#000" stroke-width="1.1" fill="none">
<path d="M350.4,244.3 V255.7 M350.4,296.3 V303.4 M344.2,244.3 h12.4 M344.2,303.4 h12.4"/>
<rect x="344.09999999999997" y="255.7" width="12.6" height="40.60" fill="#86ff2e"/>
<path d="M344.09999999999997,277.3 h12.6" stroke-width="1.3"/>
</g>
<g stroke="#000" stroke-width="1.1" fill="none">
<path d="M379.5,237.4 V246.6 M379.5,284.4 V291.8 M373.3,237.4 h12.4 M373.3,291.8 h12.4"/>
<rect x="373.2" y="246.6" width="12.6" height="37.80" fill="#86ff2e"/>
<path d="M373.2,266.2 h12.6" stroke-width="1.3"/>
</g>
<rect x="267.4" y="223.6" width="67.3" height="15.7" fill="#fff" stroke="#444" stroke-width="1"/>
<text x="268.6" y="235.4" font-size="10.4">r</text><text x="271.5" y="236.2" font-size="7">c</text>
<text x="276.8" y="235.4" font-size="10.4" textLength="8.6" lengthAdjust="spacingAndGlyphs">of</text>
<path d="M290.2,229.6 L288.3,233.3 L290.2,237 M299.7,229.6 L301.6,233.3 L299.7,237" fill="none" stroke="#000" stroke-width="0.6"/>
<text x="290.8" y="235.4" font-size="10.4">ψ</text>
<text x="305.8" y="235.4" font-size="10.4" textLength="14.6" lengthAdjust="spacingAndGlyphs">and</text>
<text x="321.2" y="235.4" font-size="10.4">r</text><text x="324.0" y="236.6" font-size="8.6">a</text>
<rect x="332.7" y="326.1" width="72.4" height="33.1" fill="#fff" stroke="#444" stroke-width="1"/>
<path d="M337.3,332.8 h12.2" stroke="#000" stroke-width="1.1"/>
<rect x="337.3" y="339.6" width="12.2" height="6.8" fill="#86ff2e" stroke="#000" stroke-width="0.9"/>
<path d="M337.3,353.7 h12.2 M337.5,351 v5.4 M349.3,351 v5.4" stroke="#000" stroke-width="0.9"/>
<text x="353.50" y="336.20" font-size="10" text-anchor="start" >median</text>
<text x="353.50" y="346.20" font-size="10" text-anchor="start" >25% - 75%</text>
<text x="353.50" y="357.00" font-size="10" text-anchor="start" >10% - 90%</text>
<text transform="translate(290.2,375.0) rotate(25)" font-size="10.5" text-anchor="middle" y="3.7" textLength="24" lengthAdjust="spacingAndGlyphs">23-27</text>
<text transform="translate(320.7,375.4) rotate(25)" font-size="10.5" text-anchor="middle" y="3.7" textLength="24" lengthAdjust="spacingAndGlyphs">27-31</text>
<text transform="translate(350.2,375.1) rotate(25)" font-size="10.5" text-anchor="middle" y="3.7" textLength="24" lengthAdjust="spacingAndGlyphs">31-35</text>
<text transform="translate(377.9,375.4) rotate(25)" font-size="10.5" text-anchor="middle" y="3.7" textLength="24" lengthAdjust="spacingAndGlyphs">35-85</text>
<text x="310.0" y="396.3" font-size="13.4">C<tspan font-size="10" dy="2.6">cell</tspan><tspan dy="-2.6"> [µm]</tspan></text>
<text transform="translate(234.7,288.6) rotate(-90)" font-size="13.4" text-anchor="middle">Correlation Factor - r<tspan font-size="9" dy="2.4">c</tspan></text>
<text x="429.6" y="215.2" font-size="15" font-weight="bold">G</text>
<polygon points="459.6,299.0 472.1,299.0 498.1,264.9 513.5,271.7 545.1,237.5 562,237.7 604.6,238.4 604.6,311.1 545.2,311.3 536.2,310.2 527.1,307.2 510.3,317.1 507.5,319.3 500.2,326.6 491.2,327.2 483.1,325.8 473.1,329.8 459.6,329.8" fill="#86ff2e"/>
<rect x="459.6" y="218.5" width="145.00" height="144.90" fill="none" stroke="#ababab" stroke-width="1.5"/>
<path d="M459.6,237.70 h2.5 M604.6,237.70 h-2.5" stroke="#8a8a8a" stroke-width="0.6"/>
<text x="456.80" y="242.46" font-size="13.3" text-anchor="end" >20</text>
<path d="M459.6,262.84 h2.5 M604.6,262.84 h-2.5" stroke="#8a8a8a" stroke-width="0.6"/>
<text x="456.80" y="266.96" font-size="13.3" text-anchor="end" >16</text>
<path d="M459.6,287.98 h2.5 M604.6,287.98 h-2.5" stroke="#8a8a8a" stroke-width="0.6"/>
<text x="456.80" y="292.96" font-size="13.3" text-anchor="end" >12</text>
<path d="M459.6,313.12 h2.5 M604.6,313.12 h-2.5" stroke="#8a8a8a" stroke-width="0.6"/>
<text x="456.80" y="317.86" font-size="13.3" text-anchor="end" >8</text>
<path d="M459.6,338.26 h2.5 M604.6,338.26 h-2.5" stroke="#8a8a8a" stroke-width="0.6"/>
<text x="456.80" y="344.06" font-size="13.3" text-anchor="end" >4</text>
<path d="M459.6,363.40 h2.5 M604.6,363.40 h-2.5" stroke="#8a8a8a" stroke-width="0.6"/>
<text x="456.80" y="368.66" font-size="13.3" text-anchor="end" >0</text>
<path d="M466.40,363.4 v-2.5 M466.40,218.5 v2.5" stroke="#8a8a8a" stroke-width="0.6"/>
<text x="465.80" y="376.90" font-size="13.3" text-anchor="middle" >25</text>
<path d="M489.46,363.4 v-2.5 M489.46,218.5 v2.5" stroke="#8a8a8a" stroke-width="0.6"/>
<text x="489.60" y="376.90" font-size="13.3" text-anchor="middle" >30</text>
<path d="M512.53,363.4 v-2.5 M512.53,218.5 v2.5" stroke="#8a8a8a" stroke-width="0.6"/>
<text x="513.10" y="376.90" font-size="13.3" text-anchor="middle" >35</text>
<path d="M535.60,363.4 v-2.5 M535.60,218.5 v2.5" stroke="#8a8a8a" stroke-width="0.6"/>
<text x="536.20" y="376.90" font-size="13.3" text-anchor="middle" >40</text>
<path d="M558.66,363.4 v-2.5 M558.66,218.5 v2.5" stroke="#8a8a8a" stroke-width="0.6"/>
<text x="559.30" y="376.90" font-size="13.3" text-anchor="middle" >45</text>
<path d="M581.73,363.4 v-2.5 M581.73,218.5 v2.5" stroke="#8a8a8a" stroke-width="0.6"/>
<text x="582.50" y="376.90" font-size="13.3" text-anchor="middle" >50</text>
<path d="M604.79,363.4 v-2.5 M604.79,218.5 v2.5" stroke="#8a8a8a" stroke-width="0.6"/>
<text x="604.20" y="376.90" font-size="13.3" text-anchor="middle" >55</text>
<g fill="#000">
<rect x="504.5" y="238.4" width="1.4" height="1.4"/>
<rect x="509.6" y="240.4" width="1.4" height="1.4"/>
<rect x="516.6" y="235.8" width="1.4" height="1.4"/>
<rect x="521.6" y="253.1" width="1.4" height="1.4"/>
<rect x="529.7" y="250.5" width="1.4" height="1.4"/>
<rect x="485.4" y="256.5" width="1.4" height="1.4"/>
<rect x="490.5" y="260.5" width="1.4" height="1.4"/>
<rect x="491.9" y="259.9" width="1.4" height="1.4"/>
<rect x="498.5" y="260.5" width="1.4" height="1.4"/>
<rect x="499.5" y="262.5" width="1.4" height="1.4"/>
<rect x="508.6" y="265.9" width="1.4" height="1.4"/>
<rect x="511.2" y="265.9" width="1.4" height="1.4"/>
<rect x="474.4" y="284.6" width="1.4" height="1.4"/>
<rect x="483.4" y="284.6" width="1.4" height="1.4"/>
<rect x="487.9" y="277.6" width="1.4" height="1.4"/>
<rect x="534.7" y="258.5" width="1.4" height="1.4"/>
<rect x="541.8" y="227.8" width="1.4" height="1.4"/>
<rect x="562.5" y="234.4" width="1.4" height="1.4"/>
<rect x="546.4" y="241.4" width="1.4" height="1.4"/>
<rect x="578.5" y="254.5" width="1.4" height="1.4"/>
<rect x="584.6" y="255.9" width="1.4" height="1.4"/>
<rect x="534.3" y="259.5" width="1.4" height="1.4"/>
<rect x="537.3" y="261.1" width="1.4" height="1.4"/>
<rect x="549.4" y="262.5" width="1.4" height="1.4"/>
<rect x="548.4" y="264.5" width="1.4" height="1.4"/>
<rect x="552.4" y="265.5" width="1.4" height="1.4"/>
<rect x="562.5" y="260.5" width="1.4" height="1.4"/>
<rect x="569.5" y="260.5" width="1.4" height="1.4"/>
<rect x="529.3" y="270.6" width="1.4" height="1.4"/>
<rect x="538.3" y="277.2" width="1.4" height="1.4"/>
<rect x="551.4" y="275.6" width="1.4" height="1.4"/>
<rect x="562.5" y="277.0" width="1.4" height="1.4"/>
<rect x="535.3" y="281.6" width="1.4" height="1.4"/>
<rect x="553.4" y="281.6" width="1.4" height="1.4"/>
<rect x="565.5" y="289.7" width="1.4" height="1.4"/>
<rect x="570.5" y="291.7" width="1.4" height="1.4"/>
<rect x="529.3" y="286.6" width="1.4" height="1.4"/>
<rect x="533.3" y="291.3" width="1.4" height="1.4"/>
<rect x="541.4" y="293.3" width="1.4" height="1.4"/>
<rect x="538.9" y="313.0" width="1.4" height="1.4"/>
<rect x="555.8" y="312.4" width="1.4" height="1.4"/>
<rect x="553.8" y="332.5" width="1.4" height="1.4"/>
<rect x="543.4" y="340.6" width="1.4" height="1.4"/>
<rect x="601.7" y="316.4" width="1.4" height="1.4"/>
<rect x="533.3" y="296.9" width="1.4" height="1.4"/>
<rect x="547.4" y="297.7" width="1.4" height="1.4"/>
<rect x="551.4" y="303.0" width="1.4" height="1.4"/>
<rect x="553.4" y="303.0" width="1.4" height="1.4"/>
<rect x="559.5" y="304.4" width="1.4" height="1.4"/>
<rect x="535.3" y="307.0" width="1.4" height="1.4"/>
<rect x="536.3" y="308.4" width="1.4" height="1.4"/>
<rect x="477.4" y="326.5" width="1.4" height="1.4"/>
<rect x="478.4" y="332.5" width="1.4" height="1.4"/>
<rect x="479.4" y="340.6" width="1.4" height="1.4"/>
<rect x="460.3" y="336.5" width="1.4" height="1.4"/>
<rect x="488.5" y="331.1" width="1.4" height="1.4"/>
<rect x="492.5" y="332.5" width="1.4" height="1.4"/>
<rect x="499.5" y="333.5" width="1.4" height="1.4"/>
<rect x="501.5" y="339.6" width="1.4" height="1.4"/>
<rect x="503.9" y="343.2" width="1.4" height="1.4"/>
<rect x="503.9" y="329.5" width="1.4" height="1.4"/>
<rect x="509.2" y="319.5" width="1.4" height="1.4"/>
<rect x="518.6" y="317.4" width="1.4" height="1.4"/>
<rect x="528.1" y="313.8" width="1.4" height="1.4"/>
<rect x="461.3" y="307.8" width="1.4" height="1.4"/>
<rect x="462.9" y="304.4" width="1.4" height="1.4"/>
<rect x="478.3" y="333.1" width="1.4" height="1.4"/>
<rect x="488.9" y="331.0" width="1.4" height="1.4"/>
<rect x="499.5" y="334.1" width="1.4" height="1.4"/>
<rect x="501.7" y="338.7" width="1.4" height="1.4"/>
<rect x="504.3" y="342.6" width="1.4" height="1.4"/>
<rect x="459.5" y="336.5" width="1.4" height="1.4"/>
<rect x="493.0" y="310.1" width="1.4" height="1.4"/>
<rect x="476.3" y="320.2" width="1.4" height="1.4"/>
<rect x="505.2" y="290.9" width="1.4" height="1.4"/>
<rect x="503.4" y="298.0" width="1.4" height="1.4"/>
<rect x="472.1" y="310.5" width="1.4" height="1.4"/>
<rect x="478.0" y="309.7" width="1.4" height="1.4"/>
<rect x="498.5" y="299.0" width="1.4" height="1.4"/>
<rect x="487.6" y="296.0" width="1.4" height="1.4"/>
<rect x="511.4" y="306.8" width="1.4" height="1.4"/>
<rect x="496.9" y="288.9" width="1.4" height="1.4"/>
<rect x="550.9" y="308.6" width="1.4" height="1.4"/>
<rect x="491.2" y="307.1" width="1.4" height="1.4"/>
<rect x="482.4" y="311.0" width="1.4" height="1.4"/>
<rect x="527.1" y="288.5" width="1.4" height="1.4"/>
<rect x="484.9" y="289.1" width="1.4" height="1.4"/>
<rect x="495.6" y="285.9" width="1.4" height="1.4"/>
<rect x="506.0" y="297.9" width="1.4" height="1.4"/>
<rect x="486.5" y="303.7" width="1.4" height="1.4"/>
<rect x="515.3" y="282.0" width="1.4" height="1.4"/>
<rect x="508.5" y="297.8" width="1.4" height="1.4"/>
<rect x="500.2" y="287.1" width="1.4" height="1.4"/>
<rect x="516.7" y="308.7" width="1.4" height="1.4"/>
<rect x="488.8" y="287.1" width="1.4" height="1.4"/>
<rect x="533.7" y="270.3" width="1.4" height="1.4"/>
<rect x="519.2" y="279.7" width="1.4" height="1.4"/>
<rect x="480.4" y="333.0" width="1.4" height="1.4"/>
<rect x="498.2" y="295.7" width="1.4" height="1.4"/>
<rect x="502.3" y="286.6" width="1.4" height="1.4"/>
<rect x="472.3" y="306.4" width="1.4" height="1.4"/>
<rect x="507.6" y="275.1" width="1.4" height="1.4"/>
<rect x="533.7" y="269.5" width="1.4" height="1.4"/>
<rect x="509.1" y="309.9" width="1.4" height="1.4"/>
<rect x="508.1" y="270.8" width="1.4" height="1.4"/>
<rect x="543.9" y="283.4" width="1.4" height="1.4"/>
<rect x="501.4" y="292.3" width="1.4" height="1.4"/>
<rect x="516.9" y="285.9" width="1.4" height="1.4"/>
<rect x="512.8" y="313.0" width="1.4" height="1.4"/>
<rect x="491.0" y="298.5" width="1.4" height="1.4"/>
<rect x="496.3" y="294.3" width="1.4" height="1.4"/>
<rect x="500.7" y="292.4" width="1.4" height="1.4"/>
<rect x="484.1" y="306.4" width="1.4" height="1.4"/>
<rect x="522.6" y="287.4" width="1.4" height="1.4"/>
<rect x="481.3" y="305.6" width="1.4" height="1.4"/>
<rect x="533.2" y="293.7" width="1.4" height="1.4"/>
<rect x="477.1" y="298.1" width="1.4" height="1.4"/>
<rect x="534.7" y="284.4" width="1.4" height="1.4"/>
<rect x="527.4" y="287.9" width="1.4" height="1.4"/>
<rect x="498.0" y="285.9" width="1.4" height="1.4"/>
<rect x="494.9" y="324.4" width="1.4" height="1.4"/>
<rect x="482.9" y="286.7" width="1.4" height="1.4"/>
<rect x="484.6" y="304.1" width="1.4" height="1.4"/>
<rect x="502.1" y="305.1" width="1.4" height="1.4"/>
<rect x="508.7" y="293.1" width="1.4" height="1.4"/>
<rect x="498.2" y="296.7" width="1.4" height="1.4"/>
<rect x="495.4" y="262.9" width="1.4" height="1.4"/>
<rect x="516.1" y="278.7" width="1.4" height="1.4"/>
<rect x="503.9" y="279.2" width="1.4" height="1.4"/>
<rect x="474.2" y="303.0" width="1.4" height="1.4"/>
<rect x="536.8" y="283.5" width="1.4" height="1.4"/>
<rect x="525.3" y="257.4" width="1.4" height="1.4"/>
<rect x="496.7" y="289.9" width="1.4" height="1.4"/>
<rect x="511.9" y="295.9" width="1.4" height="1.4"/>
<rect x="475.2" y="316.1" width="1.4" height="1.4"/>
<rect x="483.7" y="306.8" width="1.4" height="1.4"/>
<rect x="493.9" y="297.9" width="1.4" height="1.4"/>
<rect x="482.9" y="304.3" width="1.4" height="1.4"/>
<rect x="479.0" y="306.0" width="1.4" height="1.4"/>
<rect x="533.6" y="281.3" width="1.4" height="1.4"/>
<rect x="510.4" y="298.1" width="1.4" height="1.4"/>
<rect x="494.3" y="306.2" width="1.4" height="1.4"/>
<rect x="495.2" y="317.2" width="1.4" height="1.4"/>
<rect x="557.1" y="298.7" width="1.4" height="1.4"/>
<rect x="500.9" y="288.9" width="1.4" height="1.4"/>
<rect x="479.1" y="307.7" width="1.4" height="1.4"/>
<rect x="494.0" y="295.0" width="1.4" height="1.4"/>
<rect x="483.6" y="323.9" width="1.4" height="1.4"/>
<rect x="469.7" y="322.7" width="1.4" height="1.4"/>
<rect x="482.6" y="300.5" width="1.4" height="1.4"/>
<rect x="505.7" y="309.4" width="1.4" height="1.4"/>
<rect x="551.6" y="277.5" width="1.4" height="1.4"/>
<rect x="532.2" y="275.4" width="1.4" height="1.4"/>
<rect x="495.3" y="285.7" width="1.4" height="1.4"/>
<rect x="484.0" y="305.4" width="1.4" height="1.4"/>
<rect x="523.5" y="268.9" width="1.4" height="1.4"/>
<rect x="493.3" y="302.3" width="1.4" height="1.4"/>
<rect x="553.7" y="306.9" width="1.4" height="1.4"/>
<rect x="531.0" y="288.7" width="1.4" height="1.4"/>
<rect x="520.1" y="266.3" width="1.4" height="1.4"/>
<rect x="487.8" y="290.0" width="1.4" height="1.4"/>
<rect x="470.8" y="312.9" width="1.4" height="1.4"/>
<rect x="470.6" y="312.6" width="1.4" height="1.4"/>
<rect x="516.2" y="298.5" width="1.4" height="1.4"/>
<rect x="546.2" y="232.7" width="1.4" height="1.4"/>
<rect x="554.8" y="287.8" width="1.4" height="1.4"/>
<rect x="545.9" y="265.1" width="1.4" height="1.4"/>
<rect x="487.8" y="308.0" width="1.4" height="1.4"/>
<rect x="486.0" y="307.1" width="1.4" height="1.4"/>
<rect x="536.9" y="299.0" width="1.4" height="1.4"/>
<rect x="529.7" y="260.4" width="1.4" height="1.4"/>
<rect x="525.5" y="284.5" width="1.4" height="1.4"/>
<rect x="477.5" y="298.0" width="1.4" height="1.4"/>
<rect x="523.8" y="260.8" width="1.4" height="1.4"/>
<rect x="521.0" y="278.6" width="1.4" height="1.4"/>
<rect x="524.5" y="284.1" width="1.4" height="1.4"/>
<rect x="493.5" y="309.8" width="1.4" height="1.4"/>
<rect x="496.9" y="256.7" width="1.4" height="1.4"/>
<rect x="497.2" y="318.6" width="1.4" height="1.4"/>
<rect x="484.2" y="297.7" width="1.4" height="1.4"/>
<rect x="481.1" y="318.2" width="1.4" height="1.4"/>
<rect x="526.2" y="303.7" width="1.4" height="1.4"/>
<rect x="482.6" y="317.8" width="1.4" height="1.4"/>
<rect x="513.5" y="264.9" width="1.4" height="1.4"/>
<rect x="494.4" y="289.8" width="1.4" height="1.4"/>
<rect x="467.9" y="312.5" width="1.4" height="1.4"/>
<rect x="549.5" y="260.4" width="1.4" height="1.4"/>
<rect x="542.0" y="257.4" width="1.4" height="1.4"/>
<rect x="499.1" y="315.2" width="1.4" height="1.4"/>
<rect x="486.8" y="285.8" width="1.4" height="1.4"/>
<rect x="489.2" y="298.1" width="1.4" height="1.4"/>
<rect x="508.5" y="301.8" width="1.4" height="1.4"/>
<rect x="489.6" y="294.4" width="1.4" height="1.4"/>
<rect x="538.3" y="280.9" width="1.4" height="1.4"/>
<rect x="494.6" y="278.4" width="1.4" height="1.4"/>
<rect x="537.5" y="282.6" width="1.4" height="1.4"/>
<rect x="498.3" y="311.0" width="1.4" height="1.4"/>
<rect x="505.0" y="286.3" width="1.4" height="1.4"/>
<rect x="504.4" y="308.5" width="1.4" height="1.4"/>
<rect x="485.1" y="304.4" width="1.4" height="1.4"/>
<rect x="464.8" y="315.1" width="1.4" height="1.4"/>
<rect x="501.4" y="286.5" width="1.4" height="1.4"/>
<rect x="518.8" y="278.0" width="1.4" height="1.4"/>
<rect x="504.1" y="290.0" width="1.4" height="1.4"/>
<rect x="506.5" y="294.8" width="1.4" height="1.4"/>
<rect x="506.8" y="287.7" width="1.4" height="1.4"/>
<rect x="489.0" y="297.0" width="1.4" height="1.4"/>
<rect x="503.5" y="317.8" width="1.4" height="1.4"/>
<rect x="506.9" y="295.2" width="1.4" height="1.4"/>
<rect x="499.6" y="262.1" width="1.4" height="1.4"/>
<rect x="510.3" y="279.1" width="1.4" height="1.4"/>
<rect x="516.2" y="289.4" width="1.4" height="1.4"/>
<rect x="500.1" y="278.6" width="1.4" height="1.4"/>
<rect x="543.3" y="269.9" width="1.4" height="1.4"/>
<rect x="516.7" y="308.8" width="1.4" height="1.4"/>
<rect x="489.6" y="278.7" width="1.4" height="1.4"/>
<rect x="506.7" y="316.1" width="1.4" height="1.4"/>
<rect x="481.9" y="298.1" width="1.4" height="1.4"/>
<rect x="480.7" y="302.4" width="1.4" height="1.4"/>
<rect x="488.6" y="302.7" width="1.4" height="1.4"/>
<rect x="476.3" y="302.1" width="1.4" height="1.4"/>
<rect x="536.5" y="252.9" width="1.4" height="1.4"/>
<rect x="483.1" y="300.8" width="1.4" height="1.4"/>
<rect x="482.3" y="289.8" width="1.4" height="1.4"/>
<rect x="534.6" y="289.0" width="1.4" height="1.4"/>
<rect x="545.4" y="271.1" width="1.4" height="1.4"/>
<rect x="497.0" y="249.0" width="1.4" height="1.4"/>
<rect x="528.8" y="283.7" width="1.4" height="1.4"/>
<rect x="483.6" y="292.0" width="1.4" height="1.4"/>
<rect x="493.8" y="304.8" width="1.4" height="1.4"/>
<rect x="485.9" y="294.7" width="1.4" height="1.4"/>
<rect x="469.1" y="324.9" width="1.4" height="1.4"/>
<rect x="506.4" y="291.3" width="1.4" height="1.4"/>
<rect x="493.4" y="298.9" width="1.4" height="1.4"/>
<rect x="511.1" y="288.8" width="1.4" height="1.4"/>
<rect x="553.7" y="273.2" width="1.4" height="1.4"/>
<rect x="524.4" y="288.8" width="1.4" height="1.4"/>
<rect x="489.9" y="299.1" width="1.4" height="1.4"/>
<rect x="472.4" y="314.2" width="1.4" height="1.4"/>
<rect x="481.3" y="297.6" width="1.4" height="1.4"/>
<rect x="498.4" y="319.4" width="1.4" height="1.4"/>
<rect x="489.6" y="287.7" width="1.4" height="1.4"/>
<rect x="482.8" y="316.1" width="1.4" height="1.4"/>
<rect x="516.8" y="282.2" width="1.4" height="1.4"/>
<rect x="477.9" y="321.6" width="1.4" height="1.4"/>
<rect x="498.6" y="303.6" width="1.4" height="1.4"/>
<rect x="476.3" y="321.4" width="1.4" height="1.4"/>
<rect x="525.7" y="275.3" width="1.4" height="1.4"/>
<rect x="477.4" y="310.9" width="1.4" height="1.4"/>
<rect x="532.2" y="275.0" width="1.4" height="1.4"/>
<rect x="500.2" y="285.2" width="1.4" height="1.4"/>
<rect x="540.8" y="294.1" width="1.4" height="1.4"/>
<rect x="490.1" y="311.2" width="1.4" height="1.4"/>
<rect x="488.4" y="312.2" width="1.4" height="1.4"/>
<rect x="479.7" y="308.5" width="1.4" height="1.4"/>
<rect x="486.3" y="305.5" width="1.4" height="1.4"/>
<rect x="492.4" y="290.6" width="1.4" height="1.4"/>
<rect x="491.2" y="320.9" width="1.4" height="1.4"/>
<rect x="503.0" y="300.2" width="1.4" height="1.4"/>
<rect x="468.8" y="320.1" width="1.4" height="1.4"/>
<rect x="489.1" y="321.4" width="1.4" height="1.4"/>
<rect x="506.2" y="295.6" width="1.4" height="1.4"/>
</g>
<path d="M459.60,321.80 C462.68,320.02 471.37,314.83 478.10,311.10 C484.83,307.37 494.13,301.80 500.00,299.40 C505.87,297.00 508.83,297.83 513.30,296.70 C517.77,295.57 521.52,294.48 526.80,292.60 C532.08,290.72 539.47,287.18 545.00,285.40 C550.53,283.62 553.72,283.25 560.00,281.90 C566.28,280.55 575.27,278.40 582.70,277.30 C590.13,276.20 600.95,275.63 604.60,275.30" fill="none" stroke="#000" stroke-width="1.2" stroke-dasharray="3.2,2.4"/>
<circle cx="472.1" cy="316.1" r="2.7" fill="#fff" stroke="#000" stroke-width="1"/>
<circle cx="485.1" cy="304.1" r="2.7" fill="#fff" stroke="#000" stroke-width="1"/>
<circle cx="497.8" cy="294.4" r="2.7" fill="#fff" stroke="#000" stroke-width="1"/>
<circle cx="513.3" cy="295.9" r="2.7" fill="#fff" stroke="#000" stroke-width="1"/>
<circle cx="526.8" cy="292.1" r="2.7" fill="#fff" stroke="#000" stroke-width="1"/>
<circle cx="544.9" cy="283.1" r="2.7" fill="#fff" stroke="#000" stroke-width="1"/>
<circle cx="582.7" cy="275.5" r="2.7" fill="#fff" stroke="#000" stroke-width="1"/>
<text transform="translate(439.7,297.5) rotate(-90)" font-size="13.4" text-anchor="middle">v<tspan font-size="10" dy="2.6">mean</tspan><tspan dy="-2.6"> [µm /min]</tspan></text>
<text x="497.8" y="395.6" font-size="13.4">C<tspan font-size="10" dy="2.6">cell</tspan><tspan dy="-2.6"> [µm]</tspan></text>
<rect x="609.5" y="219.6" width="107.0" height="143.6" fill="#fff" stroke="#333" stroke-width="1"/>
<rect x="617.4" y="226.7" width="1.5" height="1.5" fill="#000"/>
<text x="629.20" y="230.60" font-size="10.1" text-anchor="start" >experimental data</text>
<circle cx="618.1" cy="241.2" r="2.5" fill="#fff" stroke="#000" stroke-width="1"/>
<text x="629.2" y="244.4" font-size="10.1">ΔV<tspan font-size="7.5" dy="1.6">cell</tspan><tspan dy="-1.6">[pL]</tspan></text>
<text x="696.6" y="244.4" font-size="10.1">n<tspan font-size="7.5" dy="1.6">cell</tspan></text>
<text x="629.20" y="258.20" font-size="10.1" text-anchor="start" >[0.15 ~ 0.30)</text>
<text x="695.60" y="258.20" font-size="10.1" text-anchor="start" >10</text>
<text x="629.20" y="271.25" font-size="10.1" text-anchor="start" >[0.30 ~ 0.45)</text>
<text x="695.60" y="271.25" font-size="10.1" text-anchor="start" >63</text>
<text x="629.20" y="284.30" font-size="10.1" text-anchor="start" >[0.45 ~ 0.60)</text>
<text x="695.60" y="284.30" font-size="10.1" text-anchor="start" >42</text>
<text x="629.20" y="297.35" font-size="10.1" text-anchor="start" >[0.60 ~ 0.75)</text>
<text x="695.60" y="297.35" font-size="10.1" text-anchor="start" >18</text>
<text x="629.20" y="310.40" font-size="10.1" text-anchor="start" >[0.75 ~ 1.05)</text>
<text x="695.60" y="310.40" font-size="10.1" text-anchor="start" >15</text>
<text x="629.20" y="323.45" font-size="10.1" text-anchor="start" >[1.05 ~ 1.35)</text>
<text x="695.60" y="323.45" font-size="10.1" text-anchor="start" >18</text>
<text x="629.20" y="336.50" font-size="10.1" text-anchor="start" >[1.35 ~ 8.52)</text>
<text x="695.60" y="336.50" font-size="10.1" text-anchor="start" >10</text>
<text transform="translate(622.60,264.50) rotate(-90)" font-size="10.1" text-anchor="middle">left</text>
<text transform="translate(622.60,319.20) rotate(-90)" font-size="10.1" text-anchor="middle">right</text>
<path d="M619.1,279 V305" stroke="#000" stroke-width="1.1"/>
<path d="M616.4,284 L619.1,277.3 L621.8,284 Z M616.4,300 L619.1,306.4 L621.8,300 Z" fill="#000"/>
<path d="M613,344.9 H625.2" stroke="#000" stroke-width="1" stroke-dasharray="2.2,2"/>
<text x="629.20" y="347.80" font-size="10.1" text-anchor="start" >bezier curve of 'O'</text>
<rect x="613" y="354.4" width="12.2" height="5.8" fill="#86ff2e"/>
<text x="629.20" y="360.60" font-size="10.1" text-anchor="start" >10% - 90%</text>
</svg></body></html>
